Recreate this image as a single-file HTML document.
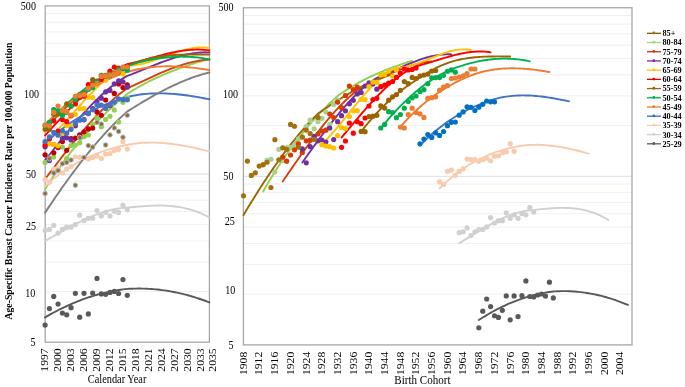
<!DOCTYPE html><html><head><meta charset="utf-8"><style>html,body{margin:0;padding:0;background:#fff;overflow:hidden;}svg{display:block;filter:blur(0.3px)}text{font-family:"Liberation Serif",serif;}</style></head><body>
<svg width="685" height="387" viewBox="0 0 685 387">
<rect width="685" height="387" fill="#fff"/>
<line x1="45.2" x2="209.4" y1="13.59" y2="13.59" stroke="#F0F0F0" stroke-width="1"/>
<line x1="45.2" x2="209.4" y1="22.2" y2="22.2" stroke="#F0F0F0" stroke-width="1"/>
<line x1="45.2" x2="209.4" y1="31.95" y2="31.95" stroke="#F0F0F0" stroke-width="1"/>
<line x1="45.2" x2="209.4" y1="43.2" y2="43.2" stroke="#F0F0F0" stroke-width="1"/>
<line x1="45.2" x2="209.4" y1="56.52" y2="56.52" stroke="#F0F0F0" stroke-width="1"/>
<line x1="45.2" x2="209.4" y1="72.81" y2="72.81" stroke="#F0F0F0" stroke-width="1"/>
<line x1="45.2" x2="209.4" y1="93.82" y2="93.82" stroke="#F0F0F0" stroke-width="1"/>
<line x1="45.2" x2="209.4" y1="123.43" y2="123.43" stroke="#F0F0F0" stroke-width="1"/>
<line x1="45.2" x2="209.4" y1="174.05" y2="174.05" stroke="#D9D9D9" stroke-width="1"/>
<line x1="45.2" x2="209.4" y1="181.74" y2="181.74" stroke="#F0F0F0" stroke-width="1"/>
<line x1="45.2" x2="209.4" y1="190.35" y2="190.35" stroke="#F0F0F0" stroke-width="1"/>
<line x1="45.2" x2="209.4" y1="200.1" y2="200.1" stroke="#F0F0F0" stroke-width="1"/>
<line x1="45.2" x2="209.4" y1="211.35" y2="211.35" stroke="#F0F0F0" stroke-width="1"/>
<line x1="45.2" x2="209.4" y1="224.67" y2="224.67" stroke="#F0F0F0" stroke-width="1"/>
<line x1="45.2" x2="209.4" y1="240.96" y2="240.96" stroke="#F0F0F0" stroke-width="1"/>
<line x1="45.2" x2="209.4" y1="261.97" y2="261.97" stroke="#F0F0F0" stroke-width="1"/>
<line x1="45.2" x2="209.4" y1="291.58" y2="291.58" stroke="#F0F0F0" stroke-width="1"/>
<line x1="243.4" x2="632" y1="15.46" y2="15.46" stroke="#F0F0F0" stroke-width="1"/>
<line x1="243.4" x2="632" y1="24.09" y2="24.09" stroke="#F0F0F0" stroke-width="1"/>
<line x1="243.4" x2="632" y1="33.86" y2="33.86" stroke="#F0F0F0" stroke-width="1"/>
<line x1="243.4" x2="632" y1="45.15" y2="45.15" stroke="#F0F0F0" stroke-width="1"/>
<line x1="243.4" x2="632" y1="58.5" y2="58.5" stroke="#F0F0F0" stroke-width="1"/>
<line x1="243.4" x2="632" y1="74.83" y2="74.83" stroke="#F0F0F0" stroke-width="1"/>
<line x1="243.4" x2="632" y1="95.9" y2="95.9" stroke="#F0F0F0" stroke-width="1"/>
<line x1="243.4" x2="632" y1="125.58" y2="125.58" stroke="#F0F0F0" stroke-width="1"/>
<line x1="243.4" x2="632" y1="176.33" y2="176.33" stroke="#D6E0F0" stroke-width="1"/>
<line x1="243.4" x2="632" y1="184.04" y2="184.04" stroke="#F0F0F0" stroke-width="1"/>
<line x1="243.4" x2="632" y1="192.67" y2="192.67" stroke="#F0F0F0" stroke-width="1"/>
<line x1="243.4" x2="632" y1="202.44" y2="202.44" stroke="#F0F0F0" stroke-width="1"/>
<line x1="243.4" x2="632" y1="213.73" y2="213.73" stroke="#F0F0F0" stroke-width="1"/>
<line x1="243.4" x2="632" y1="227.08" y2="227.08" stroke="#F0F0F0" stroke-width="1"/>
<line x1="243.4" x2="632" y1="243.41" y2="243.41" stroke="#F0F0F0" stroke-width="1"/>
<line x1="243.4" x2="632" y1="264.48" y2="264.48" stroke="#F0F0F0" stroke-width="1"/>
<line x1="243.4" x2="632" y1="294.16" y2="294.16" stroke="#F0F0F0" stroke-width="1"/>
<rect x="45.2" y="5.9" width="164.2" height="336.3" fill="none" stroke="#A6A6A6" stroke-width="1.3"/>
<rect x="243.4" y="7.75" width="388.6" height="337.15" fill="none" stroke="#A6A6A6" stroke-width="1.3"/>
<g>
<path d="M45.1,189.15 L47.26,185.75 L49.43,182.4 L51.59,179.11 L53.75,175.88 L55.91,172.71 L58.08,169.58 L60.24,166.51 L62.4,163.5 L64.56,160.54 L66.72,157.62 L68.89,154.76 L71.05,151.95 L73.21,149.19 L75.38,146.48 L77.54,143.81 L79.7,141.19 L81.86,138.62 L84.03,136.09 L86.19,133.61 L88.35,131.17 L90.51,128.77 L92.68,126.42 L94.84,124.11 L97,121.83 L99.16,119.6 L101.33,117.41 L103.49,115.26 L105.65,113.14 L107.81,111.06 L109.97,109.02 L112.14,107.01 L114.3,105.04 L116.46,103.1 L118.62,101.2 L120.79,99.33 L122.95,97.49 L125.11,95.68 L127.28,93.9 L129.44,92.51 L131.6,91.16 L133.76,89.84 L135.93,88.55 L138.09,87.29 L140.25,86.07 L142.41,84.88 L144.58,83.71 L146.74,82.57 L148.9,81.47 L151.06,80.39 L153.22,79.33 L155.39,78.3 L157.55,77.3 L159.71,76.32 L161.88,75.36 L164.04,74.43 L166.2,73.52 L168.36,72.62 L170.53,71.75 L172.69,70.9 L174.85,70.07 L177.01,69.26 L179.18,68.46 L181.34,67.68 L183.5,66.92 L185.66,66.17 L187.82,65.43 L189.99,64.71 L192.15,64 L194.31,63.3 L196.47,62.62 L198.64,61.94 L200.8,61.28 L202.96,60.62 L205.12,59.98 L207.29,59.34 L209.45,58.7" fill="none" stroke="#92D050" stroke-width="1.9" stroke-linecap="round" stroke-linejoin="round"/>
<path d="M45.1,179.14 L47.26,176.28 L49.43,173.41 L51.59,170.55 L53.75,167.71 L55.91,164.87 L58.08,162.04 L60.24,159.23 L62.4,156.43 L64.56,153.65 L66.72,150.89 L68.89,148.15 L71.05,145.44 L73.21,142.74 L75.38,140.08 L77.54,137.44 L79.7,134.83 L81.86,132.25 L84.03,129.7 L86.19,127.19 L88.35,124.71 L90.51,122.28 L92.68,119.88 L94.84,117.52 L97,115.21 L99.16,112.94 L101.33,110.72 L103.49,108.54 L105.65,106.42 L107.81,104.35 L109.97,102.33 L112.14,100.36 L114.3,98.46 L116.46,96.61 L118.62,94.82 L120.79,93.1 L122.95,91.43 L125.11,89.84 L127.28,88.31 L129.44,87.32 L131.6,86.33 L133.76,85.32 L135.93,84.32 L138.09,83.3 L140.25,82.29 L142.41,81.28 L144.58,80.27 L146.74,79.27 L148.9,78.27 L151.06,77.28 L153.22,76.29 L155.39,75.32 L157.55,74.36 L159.71,73.42 L161.88,72.49 L164.04,71.57 L166.2,70.68 L168.36,69.81 L170.53,68.96 L172.69,68.14 L174.85,67.34 L177.01,66.57 L179.18,65.83 L181.34,65.12 L183.5,64.45 L185.66,63.81 L187.82,63.2 L189.99,62.64 L192.15,62.11 L194.31,61.63 L196.47,61.19 L198.64,60.79 L200.8,60.44 L202.96,60.14 L205.12,59.89 L207.29,59.7 L209.45,59.55" fill="none" stroke="#D4400C" stroke-width="1.9" stroke-linecap="round" stroke-linejoin="round"/>
<path d="M45.1,160.22 L47.26,157.48 L49.43,154.74 L51.59,152 L53.75,149.27 L55.91,146.55 L58.08,143.83 L60.24,141.13 L62.4,138.45 L64.56,135.78 L66.72,133.13 L68.89,130.5 L71.05,127.9 L73.21,125.32 L75.38,122.77 L77.54,120.25 L79.7,117.76 L81.86,115.31 L84.03,112.9 L86.19,110.52 L88.35,108.19 L90.51,105.9 L92.68,103.66 L94.84,101.47 L97,99.32 L99.16,97.24 L101.33,95.2 L103.49,93.23 L105.65,91.31 L107.81,89.46 L109.97,87.67 L112.14,85.95 L114.3,84.29 L116.46,82.71 L118.62,81.2 L120.79,79.77 L122.95,78.42 L125.11,77.14 L127.28,75.95 L129.44,75.13 L131.6,74.3 L133.76,73.45 L135.93,72.59 L138.09,71.72 L140.25,70.85 L142.41,69.96 L144.58,69.08 L146.74,68.19 L148.9,67.31 L151.06,66.43 L153.22,65.55 L155.39,64.69 L157.55,63.83 L159.71,62.99 L161.88,62.16 L164.04,61.35 L166.2,60.56 L168.36,59.8 L170.53,59.05 L172.69,58.34 L174.85,57.65 L177.01,56.99 L179.18,56.37 L181.34,55.78 L183.5,55.23 L185.66,54.72 L187.82,54.26 L189.99,53.83 L192.15,53.46 L194.31,53.13 L196.47,52.86 L198.64,52.64 L200.8,52.47 L202.96,52.36 L205.12,52.32 L207.29,52.33 L209.45,52.42" fill="none" stroke="#7030A0" stroke-width="1.9" stroke-linecap="round" stroke-linejoin="round"/>
<path d="M45.1,142.07 L47.26,140.12 L49.43,138.1 L51.59,136.02 L53.75,133.88 L55.91,131.7 L58.08,129.46 L60.24,127.19 L62.4,124.87 L64.56,122.53 L66.72,120.17 L68.89,117.78 L71.05,115.38 L73.21,112.97 L75.38,110.56 L77.54,108.15 L79.7,105.75 L81.86,103.36 L84.03,100.98 L86.19,98.64 L88.35,96.32 L90.51,94.04 L92.68,91.79 L94.84,89.59 L97,87.44 L99.16,85.35 L101.33,83.32 L103.49,81.36 L105.65,79.47 L107.81,77.65 L109.97,75.92 L112.14,74.28 L114.3,72.73 L116.46,71.28 L118.62,69.94 L120.79,68.7 L122.95,67.58 L125.11,66.58 L127.28,65.71 L129.44,65.67 L131.6,65.54 L133.76,65.32 L135.93,65.03 L138.09,64.67 L140.25,64.24 L142.41,63.75 L144.58,63.21 L146.74,62.61 L148.9,61.98 L151.06,61.3 L153.22,60.59 L155.39,59.85 L157.55,59.09 L159.71,58.31 L161.88,57.52 L164.04,56.72 L166.2,55.92 L168.36,55.13 L170.53,54.34 L172.69,53.57 L174.85,52.82 L177.01,52.1 L179.18,51.41 L181.34,50.75 L183.5,50.14 L185.66,49.57 L187.82,49.06 L189.99,48.6 L192.15,48.21 L194.31,47.88 L196.47,47.63 L198.64,47.46 L200.8,47.38 L202.96,47.39 L205.12,47.49 L207.29,47.69 L209.45,48" fill="none" stroke="#FFC000" stroke-width="1.9" stroke-linecap="round" stroke-linejoin="round"/>
<path d="M45.1,135.39 L47.26,133.03 L49.43,130.68 L51.59,128.33 L53.75,125.98 L55.91,123.63 L58.08,121.29 L60.24,118.97 L62.4,116.65 L64.56,114.35 L66.72,112.06 L68.89,109.8 L71.05,107.55 L73.21,105.33 L75.38,103.14 L77.54,100.97 L79.7,98.83 L81.86,96.73 L84.03,94.66 L86.19,92.63 L88.35,90.64 L90.51,88.69 L92.68,86.79 L94.84,84.93 L97,83.13 L99.16,81.37 L101.33,79.67 L103.49,78.02 L105.65,76.43 L107.81,74.9 L109.97,73.44 L112.14,72.04 L114.3,70.71 L116.46,69.44 L118.62,68.25 L120.79,67.14 L122.95,66.1 L125.11,65.14 L127.28,64.26 L129.44,63.76 L131.6,63.24 L133.76,62.7 L135.93,62.14 L138.09,61.57 L140.25,60.99 L142.41,60.4 L144.58,59.8 L146.74,59.2 L148.9,58.59 L151.06,57.99 L153.22,57.39 L155.39,56.8 L157.55,56.21 L159.71,55.63 L161.88,55.07 L164.04,54.52 L166.2,53.98 L168.36,53.47 L170.53,52.97 L172.69,52.5 L174.85,52.06 L177.01,51.64 L179.18,51.26 L181.34,50.91 L183.5,50.59 L185.66,50.31 L187.82,50.07 L189.99,49.87 L192.15,49.72 L194.31,49.61 L196.47,49.55 L198.64,49.55 L200.8,49.6 L202.96,49.7 L205.12,49.86 L207.29,50.08 L209.45,50.37" fill="none" stroke="#FF0000" stroke-width="1.9" stroke-linecap="round" stroke-linejoin="round"/>
<path d="M45.1,129.61 L47.26,127.03 L49.43,124.52 L51.59,122.07 L53.75,119.69 L55.91,117.38 L58.08,115.13 L60.24,112.94 L62.4,110.8 L64.56,108.73 L66.72,106.71 L68.89,104.74 L71.05,102.83 L73.21,100.97 L75.38,99.15 L77.54,97.39 L79.7,95.67 L81.86,93.99 L84.03,92.36 L86.19,90.77 L88.35,89.21 L90.51,87.7 L92.68,86.22 L94.84,84.78 L97,83.37 L99.16,81.99 L101.33,80.64 L103.49,79.32 L105.65,78.03 L107.81,76.76 L109.97,75.51 L112.14,74.29 L114.3,73.08 L116.46,71.89 L118.62,70.73 L120.79,69.57 L122.95,68.43 L125.11,67.3 L127.28,66.18 L129.44,65.2 L131.6,64.28 L133.76,63.41 L135.93,62.59 L138.09,61.82 L140.25,61.1 L142.41,60.43 L144.58,59.8 L146.74,59.22 L148.9,58.69 L151.06,58.19 L153.22,57.74 L155.39,57.32 L157.55,56.94 L159.71,56.59 L161.88,56.28 L164.04,55.99 L166.2,55.74 L168.36,55.52 L170.53,55.32 L172.69,55.15 L174.85,55 L177.01,54.87 L179.18,54.77 L181.34,54.68 L183.5,54.61 L185.66,54.55 L187.82,54.51 L189.99,54.48 L192.15,54.46 L194.31,54.45 L196.47,54.45 L198.64,54.45 L200.8,54.45 L202.96,54.46 L205.12,54.47 L207.29,54.48 L209.45,54.49" fill="none" stroke="#9A6400" stroke-width="1.9" stroke-linecap="round" stroke-linejoin="round"/>
<path d="M45.1,126 L47.26,123.62 L49.43,121.28 L51.59,118.97 L53.75,116.71 L55.91,114.49 L58.08,112.31 L60.24,110.17 L62.4,108.08 L64.56,106.02 L66.72,104.01 L68.89,102.04 L71.05,100.12 L73.21,98.23 L75.38,96.39 L77.54,94.59 L79.7,92.84 L81.86,91.13 L84.03,89.47 L86.19,87.85 L88.35,86.27 L90.51,84.74 L92.68,83.26 L94.84,81.82 L97,80.43 L99.16,79.08 L101.33,77.78 L103.49,76.53 L105.65,75.33 L107.81,74.17 L109.97,73.06 L112.14,71.99 L114.3,70.98 L116.46,70.01 L118.62,69.1 L120.79,68.23 L122.95,67.41 L125.11,66.64 L127.28,65.92 L129.44,65.23 L131.6,64.56 L133.76,63.92 L135.93,63.3 L138.09,62.7 L140.25,62.14 L142.41,61.6 L144.58,61.08 L146.74,60.6 L148.9,60.14 L151.06,59.7 L153.22,59.3 L155.39,58.92 L157.55,58.57 L159.71,58.25 L161.88,57.96 L164.04,57.7 L166.2,57.47 L168.36,57.26 L170.53,57.09 L172.69,56.94 L174.85,56.83 L177.01,56.75 L179.18,56.69 L181.34,56.67 L183.5,56.68 L185.66,56.73 L187.82,56.8 L189.99,56.91 L192.15,57.04 L194.31,57.22 L196.47,57.42 L198.64,57.66 L200.8,57.93 L202.96,58.24 L205.12,58.58 L207.29,58.95 L209.45,59.36" fill="none" stroke="#00B050" stroke-width="1.9" stroke-linecap="round" stroke-linejoin="round"/>
<path d="M45.1,124.64 L47.26,122.43 L49.43,120.27 L51.59,118.17 L53.75,116.12 L55.91,114.12 L58.08,112.17 L60.24,110.27 L62.4,108.43 L64.56,106.63 L66.72,104.88 L68.89,103.17 L71.05,101.51 L73.21,99.9 L75.38,98.33 L77.54,96.81 L79.7,95.33 L81.86,93.89 L84.03,92.49 L86.19,91.14 L88.35,89.82 L90.51,88.54 L92.68,87.3 L94.84,86.1 L97,84.93 L99.16,83.8 L101.33,82.71 L103.49,81.65 L105.65,80.62 L107.81,79.62 L109.97,78.66 L112.14,77.73 L114.3,76.82 L116.46,75.95 L118.62,75.11 L120.79,74.29 L122.95,73.5 L125.11,72.73 L127.28,71.99 L129.44,71.37 L131.6,70.78 L133.76,70.24 L135.93,69.73 L138.09,69.26 L140.25,68.83 L142.41,68.44 L144.58,68.08 L146.74,67.76 L148.9,67.47 L151.06,67.22 L153.22,67 L155.39,66.81 L157.55,66.65 L159.71,66.52 L161.88,66.42 L164.04,66.35 L166.2,66.31 L168.36,66.29 L170.53,66.3 L172.69,66.34 L174.85,66.4 L177.01,66.48 L179.18,66.59 L181.34,66.72 L183.5,66.87 L185.66,67.04 L187.82,67.23 L189.99,67.44 L192.15,67.67 L194.31,67.91 L196.47,68.18 L198.64,68.45 L200.8,68.75 L202.96,69.05 L205.12,69.37 L207.29,69.7 L209.45,70.04" fill="none" stroke="#ED7D31" stroke-width="1.9" stroke-linecap="round" stroke-linejoin="round"/>
<path d="M45.1,143.32 L47.26,141.3 L49.43,139.34 L51.59,137.43 L53.75,135.58 L55.91,133.78 L58.08,132.03 L60.24,130.32 L62.4,128.67 L64.56,127.07 L66.72,125.51 L68.89,124 L71.05,122.53 L73.21,121.11 L75.38,119.73 L77.54,118.39 L79.7,117.09 L81.86,115.83 L84.03,114.62 L86.19,113.44 L88.35,112.29 L90.51,111.19 L92.68,110.12 L94.84,109.08 L97,108.08 L99.16,107.11 L101.33,106.17 L103.49,105.26 L105.65,104.38 L107.81,103.53 L109.97,102.71 L112.14,101.91 L114.3,101.14 L116.46,100.39 L118.62,99.67 L120.79,98.97 L122.95,98.29 L125.11,97.64 L127.28,97 L129.44,96.49 L131.6,96.02 L133.76,95.59 L135.93,95.2 L138.09,94.85 L140.25,94.54 L142.41,94.27 L144.58,94.03 L146.74,93.83 L148.9,93.67 L151.06,93.54 L153.22,93.44 L155.39,93.38 L157.55,93.34 L159.71,93.34 L161.88,93.36 L164.04,93.41 L166.2,93.49 L168.36,93.6 L170.53,93.73 L172.69,93.88 L174.85,94.06 L177.01,94.26 L179.18,94.48 L181.34,94.72 L183.5,94.98 L185.66,95.26 L187.82,95.56 L189.99,95.87 L192.15,96.2 L194.31,96.55 L196.47,96.9 L198.64,97.27 L200.8,97.65 L202.96,98.04 L205.12,98.45 L207.29,98.86 L209.45,99.27" fill="none" stroke="#4472C4" stroke-width="1.9" stroke-linecap="round" stroke-linejoin="round"/>
<path d="M45.1,186.2 L47.26,184.26 L49.43,182.38 L51.59,180.55 L53.75,178.78 L55.91,177.06 L58.08,175.4 L60.24,173.79 L62.4,172.23 L64.56,170.72 L66.72,169.26 L68.89,167.85 L71.05,166.48 L73.21,165.17 L75.38,163.9 L77.54,162.67 L79.7,161.49 L81.86,160.35 L84.03,159.25 L86.19,158.2 L88.35,157.19 L90.51,156.21 L92.68,155.28 L94.84,154.38 L97,153.52 L99.16,152.7 L101.33,151.91 L103.49,151.15 L105.65,150.43 L107.81,149.74 L109.97,149.08 L112.14,148.46 L114.3,147.86 L116.46,147.29 L118.62,146.75 L120.79,146.24 L122.95,145.75 L125.11,145.29 L127.28,144.86 L129.44,144.46 L131.6,144.1 L133.76,143.78 L135.93,143.5 L138.09,143.27 L140.25,143.07 L142.41,142.9 L144.58,142.78 L146.74,142.69 L148.9,142.63 L151.06,142.61 L153.22,142.62 L155.39,142.66 L157.55,142.73 L159.71,142.84 L161.88,142.97 L164.04,143.13 L166.2,143.32 L168.36,143.53 L170.53,143.77 L172.69,144.03 L174.85,144.32 L177.01,144.63 L179.18,144.96 L181.34,145.32 L183.5,145.69 L185.66,146.08 L187.82,146.5 L189.99,146.92 L192.15,147.37 L194.31,147.83 L196.47,148.3 L198.64,148.79 L200.8,149.3 L202.96,149.81 L205.12,150.34 L207.29,150.87 L209.45,151.42" fill="none" stroke="#F8CBAD" stroke-width="1.9" stroke-linecap="round" stroke-linejoin="round"/>
<path d="M45.1,240.82 L47.26,239.62 L49.43,238.42 L51.59,237.21 L53.75,235.99 L55.91,234.78 L58.08,233.57 L60.24,232.36 L62.4,231.16 L64.56,229.97 L66.72,228.79 L68.89,227.61 L71.05,226.46 L73.21,225.31 L75.38,224.19 L77.54,223.08 L79.7,222 L81.86,220.94 L84.03,219.9 L86.19,218.89 L88.35,217.92 L90.51,216.97 L92.68,216.06 L94.84,215.18 L97,214.34 L99.16,213.54 L101.33,212.78 L103.49,212.06 L105.65,211.39 L107.81,210.77 L109.97,210.2 L112.14,209.68 L114.3,209.21 L116.46,208.79 L118.62,208.44 L120.79,208.14 L122.95,207.91 L125.11,207.74 L127.28,207.63 L129.44,207.42 L131.6,207.21 L133.76,207 L135.93,206.81 L138.09,206.61 L140.25,206.43 L142.41,206.26 L144.58,206.1 L146.74,205.96 L148.9,205.84 L151.06,205.73 L153.22,205.65 L155.39,205.59 L157.55,205.56 L159.71,205.55 L161.88,205.57 L164.04,205.63 L166.2,205.71 L168.36,205.84 L170.53,206 L172.69,206.2 L174.85,206.44 L177.01,206.72 L179.18,207.05 L181.34,207.43 L183.5,207.86 L185.66,208.33 L187.82,208.87 L189.99,209.45 L192.15,210.1 L194.31,210.8 L196.47,211.56 L198.64,212.39 L200.8,213.28 L202.96,214.24 L205.12,215.27 L207.29,216.37 L209.45,217.55" fill="none" stroke="#D0D0D0" stroke-width="1.9" stroke-linecap="round" stroke-linejoin="round"/>
<path d="M45.1,317.4 L47.26,316.13 L49.43,314.9 L51.59,313.69 L53.75,312.51 L55.91,311.36 L58.08,310.24 L60.24,309.14 L62.4,308.08 L64.56,307.04 L66.72,306.03 L68.89,305.04 L71.05,304.09 L73.21,303.16 L75.38,302.26 L77.54,301.39 L79.7,300.54 L81.86,299.73 L84.03,298.94 L86.19,298.18 L88.35,297.44 L90.51,296.74 L92.68,296.06 L94.84,295.41 L97,294.78 L99.16,294.19 L101.33,293.62 L103.49,293.07 L105.65,292.56 L107.81,292.07 L109.97,291.61 L112.14,291.18 L114.3,290.77 L116.46,290.4 L118.62,290.05 L120.79,289.72 L122.95,289.42 L125.11,289.15 L127.28,288.91 L129.44,288.79 L131.6,288.69 L133.76,288.62 L135.93,288.58 L138.09,288.56 L140.25,288.56 L142.41,288.6 L144.58,288.66 L146.74,288.74 L148.9,288.85 L151.06,288.99 L153.22,289.16 L155.39,289.34 L157.55,289.56 L159.71,289.8 L161.88,290.07 L164.04,290.36 L166.2,290.68 L168.36,291.02 L170.53,291.39 L172.69,291.78 L174.85,292.2 L177.01,292.65 L179.18,293.12 L181.34,293.62 L183.5,294.14 L185.66,294.69 L187.82,295.26 L189.99,295.86 L192.15,296.48 L194.31,297.13 L196.47,297.8 L198.64,298.5 L200.8,299.23 L202.96,299.98 L205.12,300.75 L207.29,301.55 L209.45,302.37" fill="none" stroke="#595959" stroke-width="1.9" stroke-linecap="round" stroke-linejoin="round"/>
<path d="M45.1,212.62 L47.26,209.37 L49.43,206.13 L51.59,202.92 L53.75,199.74 L55.91,196.58 L58.08,193.45 L60.24,190.35 L62.4,187.27 L64.56,184.23 L66.72,181.21 L68.89,178.23 L71.05,175.27 L73.21,172.35 L75.38,169.46 L77.54,166.6 L79.7,163.78 L81.86,160.99 L84.03,158.23 L86.19,155.52 L88.35,152.83 L90.51,150.19 L92.68,147.58 L94.84,145.01 L97,142.48 L99.16,139.99 L101.33,137.54 L103.49,135.13 L105.65,132.76 L107.81,130.43 L109.97,128.15 L112.14,125.91 L114.3,123.72 L116.46,121.57 L118.62,119.46 L120.79,117.4 L122.95,115.39 L125.11,113.43 L127.28,111.51 L129.44,110.14 L131.6,108.79 L133.76,107.44 L135.93,106.1 L138.09,104.78 L140.25,103.47 L142.41,102.18 L144.58,100.89 L146.74,99.63 L148.9,98.38 L151.06,97.14 L153.22,95.93 L155.39,94.73 L157.55,93.55 L159.71,92.39 L161.88,91.25 L164.04,90.12 L166.2,89.02 L168.36,87.95 L170.53,86.89 L172.69,85.86 L174.85,84.85 L177.01,83.86 L179.18,82.9 L181.34,81.97 L183.5,81.06 L185.66,80.18 L187.82,79.33 L189.99,78.5 L192.15,77.71 L194.31,76.94 L196.47,76.21 L198.64,75.5 L200.8,74.83 L202.96,74.19 L205.12,73.58 L207.29,73.01 L209.45,72.47" fill="none" stroke="#7F7F7F" stroke-width="1.9" stroke-linecap="round" stroke-linejoin="round"/>
<circle cx="45.1" cy="162.6" r="2.6" fill="#92D050"/>
<circle cx="49.43" cy="158" r="2.6" fill="#92D050"/>
<circle cx="53.75" cy="157.1" r="2.6" fill="#92D050"/>
<circle cx="58.08" cy="169.8" r="2.6" fill="#92D050"/>
<circle cx="62.4" cy="147.1" r="2.6" fill="#92D050"/>
<circle cx="66.72" cy="158.3" r="2.6" fill="#92D050"/>
<circle cx="71.05" cy="145.5" r="2.6" fill="#92D050"/>
<circle cx="75.38" cy="145.1" r="2.6" fill="#92D050"/>
<circle cx="79.7" cy="142.8" r="2.6" fill="#92D050"/>
<circle cx="84.03" cy="136.6" r="2.6" fill="#92D050"/>
<circle cx="88.35" cy="135" r="2.6" fill="#92D050"/>
<circle cx="92.68" cy="124.2" r="2.6" fill="#92D050"/>
<circle cx="97" cy="118" r="2.6" fill="#92D050"/>
<circle cx="101.33" cy="126.7" r="2.6" fill="#92D050"/>
<circle cx="105.65" cy="119.5" r="2.6" fill="#92D050"/>
<circle cx="109.97" cy="116.3" r="2.6" fill="#92D050"/>
<circle cx="114.3" cy="109.9" r="2.6" fill="#92D050"/>
<circle cx="118.62" cy="122.1" r="2.6" fill="#92D050"/>
<circle cx="122.95" cy="102.3" r="2.6" fill="#92D050"/>
<circle cx="127.28" cy="98" r="2.6" fill="#92D050"/>
<circle cx="45.1" cy="154.87" r="2.6" fill="#C00000"/>
<circle cx="49.43" cy="158.96" r="2.6" fill="#C00000"/>
<circle cx="53.75" cy="152.77" r="2.6" fill="#C00000"/>
<circle cx="58.08" cy="147.59" r="2.6" fill="#C00000"/>
<circle cx="62.4" cy="141.6" r="2.6" fill="#C00000"/>
<circle cx="66.72" cy="150.28" r="2.6" fill="#C00000"/>
<circle cx="71.05" cy="138.61" r="2.6" fill="#C00000"/>
<circle cx="75.38" cy="138.01" r="2.6" fill="#C00000"/>
<circle cx="79.7" cy="134.82" r="2.6" fill="#C00000"/>
<circle cx="84.03" cy="131.83" r="2.6" fill="#C00000"/>
<circle cx="88.35" cy="128.94" r="2.6" fill="#C00000"/>
<circle cx="92.68" cy="128.04" r="2.6" fill="#C00000"/>
<circle cx="97" cy="111.88" r="2.6" fill="#C00000"/>
<circle cx="101.33" cy="115.37" r="2.6" fill="#C00000"/>
<circle cx="105.65" cy="100.01" r="2.6" fill="#C00000"/>
<circle cx="109.97" cy="105.6" r="2.6" fill="#C00000"/>
<circle cx="114.3" cy="93.43" r="2.6" fill="#C00000"/>
<circle cx="118.62" cy="83.95" r="2.6" fill="#C00000"/>
<circle cx="122.95" cy="87.54" r="2.6" fill="#C00000"/>
<circle cx="127.28" cy="84.95" r="2.6" fill="#C00000"/>
<circle cx="45.1" cy="146.69" r="2.6" fill="#7030A0"/>
<circle cx="49.43" cy="160.55" r="2.6" fill="#7030A0"/>
<circle cx="53.75" cy="144.5" r="2.6" fill="#7030A0"/>
<circle cx="58.08" cy="134.12" r="2.6" fill="#7030A0"/>
<circle cx="62.4" cy="138.61" r="2.6" fill="#7030A0"/>
<circle cx="66.72" cy="137.81" r="2.6" fill="#7030A0"/>
<circle cx="71.05" cy="139.91" r="2.6" fill="#7030A0"/>
<circle cx="75.38" cy="125.84" r="2.6" fill="#7030A0"/>
<circle cx="79.7" cy="137.41" r="2.6" fill="#7030A0"/>
<circle cx="84.03" cy="119.56" r="2.6" fill="#7030A0"/>
<circle cx="88.35" cy="113.57" r="2.6" fill="#7030A0"/>
<circle cx="92.68" cy="108.69" r="2.6" fill="#7030A0"/>
<circle cx="97" cy="101.71" r="2.6" fill="#7030A0"/>
<circle cx="101.33" cy="98.21" r="2.6" fill="#7030A0"/>
<circle cx="105.65" cy="91.93" r="2.6" fill="#7030A0"/>
<circle cx="109.97" cy="90.43" r="2.6" fill="#7030A0"/>
<circle cx="114.3" cy="83.95" r="2.6" fill="#7030A0"/>
<circle cx="118.62" cy="80.76" r="2.6" fill="#7030A0"/>
<circle cx="122.95" cy="81.96" r="2.6" fill="#7030A0"/>
<circle cx="127.28" cy="87.14" r="2.6" fill="#7030A0"/>
<circle cx="45.1" cy="142.5" r="2.6" fill="#FFC000"/>
<circle cx="49.43" cy="143.8" r="2.6" fill="#FFC000"/>
<circle cx="53.75" cy="144.5" r="2.6" fill="#FFC000"/>
<circle cx="58.08" cy="145.79" r="2.6" fill="#FFC000"/>
<circle cx="62.4" cy="133.52" r="2.6" fill="#FFC000"/>
<circle cx="66.72" cy="125.54" r="2.6" fill="#FFC000"/>
<circle cx="71.05" cy="126.44" r="2.6" fill="#FFC000"/>
<circle cx="75.38" cy="114.37" r="2.6" fill="#FFC000"/>
<circle cx="79.7" cy="108.69" r="2.6" fill="#FFC000"/>
<circle cx="84.03" cy="108.59" r="2.6" fill="#FFC000"/>
<circle cx="88.35" cy="97.22" r="2.6" fill="#FFC000"/>
<circle cx="92.68" cy="97.62" r="2.6" fill="#FFC000"/>
<circle cx="97" cy="84.65" r="2.6" fill="#FFC000"/>
<circle cx="101.33" cy="80.06" r="2.6" fill="#FFC000"/>
<circle cx="105.65" cy="80.36" r="2.6" fill="#FFC000"/>
<circle cx="109.97" cy="72.98" r="2.6" fill="#FFC000"/>
<circle cx="114.3" cy="72.28" r="2.6" fill="#FFC000"/>
<circle cx="118.62" cy="69.09" r="2.6" fill="#FFC000"/>
<circle cx="122.95" cy="73.98" r="2.6" fill="#FFC000"/>
<circle cx="127.28" cy="67.99" r="2.6" fill="#FFC000"/>
<circle cx="45.1" cy="145.09" r="2.6" fill="#FF0000"/>
<circle cx="49.43" cy="138.81" r="2.6" fill="#FF0000"/>
<circle cx="53.75" cy="120.86" r="2.6" fill="#FF0000"/>
<circle cx="58.08" cy="131.03" r="2.6" fill="#FF0000"/>
<circle cx="62.4" cy="119.56" r="2.6" fill="#FF0000"/>
<circle cx="66.72" cy="121.55" r="2.6" fill="#FF0000"/>
<circle cx="71.05" cy="115.87" r="2.6" fill="#FF0000"/>
<circle cx="75.38" cy="103.9" r="2.6" fill="#FF0000"/>
<circle cx="79.7" cy="97.52" r="2.6" fill="#FF0000"/>
<circle cx="84.03" cy="96.22" r="2.6" fill="#FF0000"/>
<circle cx="88.35" cy="84.65" r="2.6" fill="#FF0000"/>
<circle cx="92.68" cy="83.15" r="2.6" fill="#FF0000"/>
<circle cx="97" cy="81.16" r="2.6" fill="#FF0000"/>
<circle cx="101.33" cy="79.46" r="2.6" fill="#FF0000"/>
<circle cx="105.65" cy="75.37" r="2.6" fill="#FF0000"/>
<circle cx="109.97" cy="71.18" r="2.6" fill="#FF0000"/>
<circle cx="114.3" cy="66.99" r="2.6" fill="#FF0000"/>
<circle cx="118.62" cy="67.99" r="2.6" fill="#FF0000"/>
<circle cx="122.95" cy="67.49" r="2.6" fill="#FF0000"/>
<circle cx="127.28" cy="66" r="2.6" fill="#FF0000"/>
<circle cx="45.1" cy="129.23" r="2.6" fill="#9A6400"/>
<circle cx="49.43" cy="129.53" r="2.6" fill="#9A6400"/>
<circle cx="53.75" cy="114.37" r="2.6" fill="#9A6400"/>
<circle cx="58.08" cy="114.07" r="2.6" fill="#9A6400"/>
<circle cx="62.4" cy="113.18" r="2.6" fill="#9A6400"/>
<circle cx="66.72" cy="103.8" r="2.6" fill="#9A6400"/>
<circle cx="71.05" cy="105.99" r="2.6" fill="#9A6400"/>
<circle cx="75.38" cy="98.11" r="2.6" fill="#9A6400"/>
<circle cx="79.7" cy="94.72" r="2.6" fill="#9A6400"/>
<circle cx="84.03" cy="92.53" r="2.6" fill="#9A6400"/>
<circle cx="88.35" cy="88.24" r="2.6" fill="#9A6400"/>
<circle cx="92.68" cy="79.56" r="2.6" fill="#9A6400"/>
<circle cx="97" cy="81.66" r="2.6" fill="#9A6400"/>
<circle cx="101.33" cy="75.37" r="2.6" fill="#9A6400"/>
<circle cx="105.65" cy="76.47" r="2.6" fill="#9A6400"/>
<circle cx="109.97" cy="73.98" r="2.6" fill="#9A6400"/>
<circle cx="114.3" cy="72.98" r="2.6" fill="#9A6400"/>
<circle cx="118.62" cy="72.08" r="2.6" fill="#9A6400"/>
<circle cx="122.95" cy="68.99" r="2.6" fill="#9A6400"/>
<circle cx="127.28" cy="68.49" r="2.6" fill="#9A6400"/>
<circle cx="45.1" cy="125.84" r="2.6" fill="#00B050"/>
<circle cx="49.43" cy="122.25" r="2.6" fill="#00B050"/>
<circle cx="53.75" cy="109.58" r="2.6" fill="#00B050"/>
<circle cx="58.08" cy="110.48" r="2.6" fill="#00B050"/>
<circle cx="62.4" cy="115.57" r="2.6" fill="#00B050"/>
<circle cx="66.72" cy="112.38" r="2.6" fill="#00B050"/>
<circle cx="71.05" cy="106.09" r="2.6" fill="#00B050"/>
<circle cx="75.38" cy="99.41" r="2.6" fill="#00B050"/>
<circle cx="79.7" cy="95.72" r="2.6" fill="#00B050"/>
<circle cx="84.03" cy="93.92" r="2.6" fill="#00B050"/>
<circle cx="88.35" cy="89.44" r="2.6" fill="#00B050"/>
<circle cx="92.68" cy="87.64" r="2.6" fill="#00B050"/>
<circle cx="97" cy="81.66" r="2.6" fill="#00B050"/>
<circle cx="101.33" cy="75.77" r="2.6" fill="#00B050"/>
<circle cx="105.65" cy="75.57" r="2.6" fill="#00B050"/>
<circle cx="109.97" cy="75.57" r="2.6" fill="#00B050"/>
<circle cx="114.3" cy="73.28" r="2.6" fill="#00B050"/>
<circle cx="118.62" cy="69.29" r="2.6" fill="#00B050"/>
<circle cx="122.95" cy="67.89" r="2.6" fill="#00B050"/>
<circle cx="127.28" cy="70.19" r="2.6" fill="#00B050"/>
<circle cx="45.1" cy="124.95" r="2.6" fill="#ED7D31"/>
<circle cx="49.43" cy="125.84" r="2.6" fill="#ED7D31"/>
<circle cx="53.75" cy="112.38" r="2.6" fill="#ED7D31"/>
<circle cx="58.08" cy="106.09" r="2.6" fill="#ED7D31"/>
<circle cx="62.4" cy="110.38" r="2.6" fill="#ED7D31"/>
<circle cx="66.72" cy="111.68" r="2.6" fill="#ED7D31"/>
<circle cx="71.05" cy="115.27" r="2.6" fill="#ED7D31"/>
<circle cx="75.38" cy="96.32" r="2.6" fill="#ED7D31"/>
<circle cx="79.7" cy="95.62" r="2.6" fill="#ED7D31"/>
<circle cx="84.03" cy="94.72" r="2.6" fill="#ED7D31"/>
<circle cx="88.35" cy="88.14" r="2.6" fill="#ED7D31"/>
<circle cx="92.68" cy="85.05" r="2.6" fill="#ED7D31"/>
<circle cx="97" cy="83.65" r="2.6" fill="#ED7D31"/>
<circle cx="101.33" cy="76.47" r="2.6" fill="#ED7D31"/>
<circle cx="105.65" cy="75.97" r="2.6" fill="#ED7D31"/>
<circle cx="109.97" cy="75.07" r="2.6" fill="#ED7D31"/>
<circle cx="114.3" cy="73.78" r="2.6" fill="#ED7D31"/>
<circle cx="118.62" cy="71.48" r="2.6" fill="#ED7D31"/>
<circle cx="122.95" cy="66.99" r="2.6" fill="#ED7D31"/>
<circle cx="127.28" cy="66.99" r="2.6" fill="#ED7D31"/>
<circle cx="45.1" cy="141.6" r="2.6" fill="#4472C4"/>
<circle cx="49.43" cy="136.91" r="2.6" fill="#4472C4"/>
<circle cx="53.75" cy="132.43" r="2.6" fill="#4472C4"/>
<circle cx="58.08" cy="135.22" r="2.6" fill="#4472C4"/>
<circle cx="62.4" cy="130.73" r="2.6" fill="#4472C4"/>
<circle cx="66.72" cy="133.22" r="2.6" fill="#4472C4"/>
<circle cx="71.05" cy="129.33" r="2.6" fill="#4472C4"/>
<circle cx="75.38" cy="123.55" r="2.6" fill="#4472C4"/>
<circle cx="79.7" cy="120.16" r="2.6" fill="#4472C4"/>
<circle cx="84.03" cy="119.86" r="2.6" fill="#4472C4"/>
<circle cx="88.35" cy="113.08" r="2.6" fill="#4472C4"/>
<circle cx="92.68" cy="109.78" r="2.6" fill="#4472C4"/>
<circle cx="97" cy="104.7" r="2.6" fill="#4472C4"/>
<circle cx="101.33" cy="105.2" r="2.6" fill="#4472C4"/>
<circle cx="105.65" cy="108.39" r="2.6" fill="#4472C4"/>
<circle cx="109.97" cy="105.1" r="2.6" fill="#4472C4"/>
<circle cx="114.3" cy="102.2" r="2.6" fill="#4472C4"/>
<circle cx="118.62" cy="98.91" r="2.6" fill="#4472C4"/>
<circle cx="122.95" cy="99.71" r="2.6" fill="#4472C4"/>
<circle cx="127.28" cy="99.71" r="2.6" fill="#4472C4"/>
<circle cx="45.1" cy="179.5" r="2.6" fill="#F8CBAD"/>
<circle cx="49.43" cy="182.2" r="2.6" fill="#F8CBAD"/>
<circle cx="53.75" cy="169" r="2.6" fill="#F8CBAD"/>
<circle cx="58.08" cy="167.8" r="2.6" fill="#F8CBAD"/>
<circle cx="62.4" cy="173" r="2.6" fill="#F8CBAD"/>
<circle cx="66.72" cy="169.2" r="2.6" fill="#F8CBAD"/>
<circle cx="71.05" cy="166.6" r="2.6" fill="#F8CBAD"/>
<circle cx="75.38" cy="156.8" r="2.6" fill="#F8CBAD"/>
<circle cx="79.7" cy="157.3" r="2.6" fill="#F8CBAD"/>
<circle cx="84.03" cy="157.4" r="2.6" fill="#F8CBAD"/>
<circle cx="88.35" cy="159.1" r="2.6" fill="#F8CBAD"/>
<circle cx="92.68" cy="157.4" r="2.6" fill="#F8CBAD"/>
<circle cx="97" cy="156" r="2.6" fill="#F8CBAD"/>
<circle cx="101.33" cy="158.5" r="2.6" fill="#F8CBAD"/>
<circle cx="105.65" cy="154" r="2.6" fill="#F8CBAD"/>
<circle cx="109.97" cy="153.5" r="2.6" fill="#F8CBAD"/>
<circle cx="114.3" cy="150.5" r="2.6" fill="#F8CBAD"/>
<circle cx="118.62" cy="149.6" r="2.6" fill="#F8CBAD"/>
<circle cx="122.95" cy="141.6" r="2.6" fill="#F8CBAD"/>
<circle cx="127.28" cy="149.1" r="2.6" fill="#F8CBAD"/>
<circle cx="45.1" cy="230.3" r="2.6" fill="#D0D0D0"/>
<circle cx="49.43" cy="229.4" r="2.6" fill="#D0D0D0"/>
<circle cx="53.75" cy="225.4" r="2.6" fill="#D0D0D0"/>
<circle cx="58.08" cy="233.1" r="2.6" fill="#D0D0D0"/>
<circle cx="62.4" cy="229.4" r="2.6" fill="#D0D0D0"/>
<circle cx="66.72" cy="227.2" r="2.6" fill="#D0D0D0"/>
<circle cx="71.05" cy="227.2" r="2.6" fill="#D0D0D0"/>
<circle cx="75.38" cy="224.5" r="2.6" fill="#D0D0D0"/>
<circle cx="79.7" cy="215.2" r="2.6" fill="#D0D0D0"/>
<circle cx="84.03" cy="220.6" r="2.6" fill="#D0D0D0"/>
<circle cx="88.35" cy="218.3" r="2.6" fill="#D0D0D0"/>
<circle cx="92.68" cy="218.3" r="2.6" fill="#D0D0D0"/>
<circle cx="97" cy="210.5" r="2.6" fill="#D0D0D0"/>
<circle cx="101.33" cy="215.9" r="2.6" fill="#D0D0D0"/>
<circle cx="105.65" cy="212.4" r="2.6" fill="#D0D0D0"/>
<circle cx="109.97" cy="215.9" r="2.6" fill="#D0D0D0"/>
<circle cx="114.3" cy="211.3" r="2.6" fill="#D0D0D0"/>
<circle cx="118.62" cy="212.4" r="2.6" fill="#D0D0D0"/>
<circle cx="122.95" cy="205.1" r="2.6" fill="#D0D0D0"/>
<circle cx="127.28" cy="209.7" r="2.6" fill="#D0D0D0"/>
<circle cx="45.1" cy="325.1" r="2.6" fill="#595959"/>
<circle cx="49.43" cy="308.6" r="2.6" fill="#595959"/>
<circle cx="53.75" cy="296.4" r="2.6" fill="#595959"/>
<circle cx="58.08" cy="304" r="2.6" fill="#595959"/>
<circle cx="62.4" cy="313.1" r="2.6" fill="#595959"/>
<circle cx="66.72" cy="314.8" r="2.6" fill="#595959"/>
<circle cx="71.05" cy="307.7" r="2.6" fill="#595959"/>
<circle cx="75.38" cy="293.3" r="2.6" fill="#595959"/>
<circle cx="79.7" cy="317.2" r="2.6" fill="#595959"/>
<circle cx="84.03" cy="293.3" r="2.6" fill="#595959"/>
<circle cx="88.35" cy="313.9" r="2.6" fill="#595959"/>
<circle cx="92.68" cy="293.1" r="2.6" fill="#595959"/>
<circle cx="97" cy="278.4" r="2.6" fill="#595959"/>
<circle cx="101.33" cy="293.9" r="2.6" fill="#595959"/>
<circle cx="105.65" cy="294.3" r="2.6" fill="#595959"/>
<circle cx="109.97" cy="292.4" r="2.6" fill="#595959"/>
<circle cx="114.3" cy="291.4" r="2.6" fill="#595959"/>
<circle cx="118.62" cy="293.5" r="2.6" fill="#595959"/>
<circle cx="122.95" cy="279.6" r="2.6" fill="#595959"/>
<circle cx="127.28" cy="295.3" r="2.6" fill="#595959"/>
<circle cx="45.1" cy="193.5" r="2.25" fill="#A86A08" stroke="#92BCE6" stroke-width="1"/>
<circle cx="49.43" cy="158.8" r="2.25" fill="#A86A08" stroke="#92BCE6" stroke-width="1"/>
<circle cx="53.75" cy="173.1" r="2.25" fill="#A86A08" stroke="#92BCE6" stroke-width="1"/>
<circle cx="58.08" cy="170.6" r="2.25" fill="#A86A08" stroke="#92BCE6" stroke-width="1"/>
<circle cx="62.4" cy="163.8" r="2.25" fill="#A86A08" stroke="#92BCE6" stroke-width="1"/>
<circle cx="66.72" cy="162.4" r="2.25" fill="#A86A08" stroke="#92BCE6" stroke-width="1"/>
<circle cx="71.05" cy="160" r="2.25" fill="#A86A08" stroke="#92BCE6" stroke-width="1"/>
<circle cx="75.38" cy="185.2" r="2.25" fill="#A86A08" stroke="#92BCE6" stroke-width="1"/>
<circle cx="79.7" cy="137.5" r="2.25" fill="#A86A08" stroke="#92BCE6" stroke-width="1"/>
<circle cx="84.03" cy="157.5" r="2.25" fill="#A86A08" stroke="#92BCE6" stroke-width="1"/>
<circle cx="88.35" cy="145.6" r="2.25" fill="#A86A08" stroke="#92BCE6" stroke-width="1"/>
<circle cx="92.68" cy="147.1" r="2.25" fill="#A86A08" stroke="#92BCE6" stroke-width="1"/>
<circle cx="97" cy="122.3" r="2.25" fill="#A86A08" stroke="#92BCE6" stroke-width="1"/>
<circle cx="101.33" cy="124.1" r="2.25" fill="#A86A08" stroke="#92BCE6" stroke-width="1"/>
<circle cx="105.65" cy="145" r="2.25" fill="#A86A08" stroke="#92BCE6" stroke-width="1"/>
<circle cx="109.97" cy="134.9" r="2.25" fill="#A86A08" stroke="#92BCE6" stroke-width="1"/>
<circle cx="114.3" cy="127.9" r="2.25" fill="#A86A08" stroke="#92BCE6" stroke-width="1"/>
<circle cx="118.62" cy="131.4" r="2.25" fill="#A86A08" stroke="#92BCE6" stroke-width="1"/>
<circle cx="122.95" cy="137.2" r="2.25" fill="#A86A08" stroke="#92BCE6" stroke-width="1"/>
<circle cx="127.28" cy="115.3" r="2.25" fill="#A86A08" stroke="#92BCE6" stroke-width="1"/>
</g>
<g>
<path d="M263.11,191.47 L265.07,188.06 L267.03,184.7 L268.99,181.41 L270.95,178.17 L272.92,174.98 L274.88,171.85 L276.84,168.78 L278.8,165.75 L280.76,162.78 L282.72,159.86 L284.68,156.99 L286.64,154.18 L288.6,151.41 L290.56,148.69 L292.52,146.01 L294.49,143.39 L296.45,140.81 L298.41,138.27 L300.37,135.78 L302.33,133.34 L304.29,130.94 L306.25,128.58 L308.21,126.26 L310.17,123.98 L312.13,121.74 L314.1,119.55 L316.06,117.39 L318.02,115.27 L319.98,113.18 L321.94,111.13 L323.9,109.12 L325.86,107.15 L327.82,105.2 L329.78,103.29 L331.75,101.42 L333.71,99.57 L335.67,97.76 L337.63,95.97 L339.59,94.58 L341.55,93.23 L343.51,91.9 L345.47,90.61 L347.43,89.35 L349.39,88.13 L351.36,86.93 L353.32,85.76 L355.28,84.62 L357.24,83.51 L359.2,82.43 L361.16,81.37 L363.12,80.34 L365.08,79.33 L367.04,78.35 L369,77.39 L370.97,76.45 L372.93,75.54 L374.89,74.64 L376.85,73.77 L378.81,72.92 L380.77,72.08 L382.73,71.27 L384.69,70.47 L386.65,69.69 L388.61,68.92 L390.58,68.17 L392.54,67.43 L394.5,66.71 L396.46,66 L398.42,65.3 L400.38,64.61 L402.34,63.94 L404.3,63.27 L406.26,62.61 L408.22,61.96 L410.19,61.32 L412.15,60.69" fill="none" stroke="#92D050" stroke-width="1.9" stroke-linecap="round" stroke-linejoin="round"/>
<path d="M282.72,181.44 L284.68,178.56 L286.64,175.69 L288.6,172.82 L290.56,169.97 L292.52,167.12 L294.49,164.29 L296.45,161.47 L298.41,158.67 L300.37,155.88 L302.33,153.11 L304.29,150.37 L306.25,147.64 L308.21,144.94 L310.17,142.27 L312.13,139.62 L314.1,137.01 L316.06,134.42 L318.02,131.87 L319.98,129.35 L321.94,126.87 L323.9,124.42 L325.86,122.02 L327.82,119.66 L329.78,117.34 L331.75,115.06 L333.71,112.83 L335.67,110.66 L337.63,108.53 L339.59,106.45 L341.55,104.42 L343.51,102.46 L345.47,100.54 L347.43,98.69 L349.39,96.9 L351.36,95.17 L353.32,93.5 L355.28,91.9 L357.24,90.37 L359.2,89.38 L361.16,88.38 L363.12,87.38 L365.08,86.37 L367.04,85.35 L369,84.34 L370.97,83.32 L372.93,82.31 L374.89,81.31 L376.85,80.3 L378.81,79.31 L380.77,78.32 L382.73,77.35 L384.69,76.39 L386.65,75.44 L388.61,74.51 L390.58,73.59 L392.54,72.7 L394.5,71.82 L396.46,70.97 L398.42,70.15 L400.38,69.35 L402.34,68.58 L404.3,67.83 L406.26,67.12 L408.22,66.45 L410.19,65.8 L412.15,65.2 L414.11,64.63 L416.07,64.1 L418.03,63.62 L419.99,63.18 L421.95,62.78 L423.91,62.43 L425.87,62.13 L427.83,61.88 L429.8,61.68 L431.76,61.54" fill="none" stroke="#D4400C" stroke-width="1.9" stroke-linecap="round" stroke-linejoin="round"/>
<path d="M302.33,162.46 L304.29,159.71 L306.25,156.97 L308.21,154.22 L310.17,151.49 L312.13,148.76 L314.1,146.04 L316.06,143.33 L318.02,140.64 L319.98,137.96 L321.94,135.3 L323.9,132.67 L325.86,130.06 L327.82,127.47 L329.78,124.92 L331.75,122.39 L333.71,119.9 L335.67,117.44 L337.63,115.02 L339.59,112.64 L341.55,110.3 L343.51,108.01 L345.47,105.76 L347.43,103.56 L349.39,101.41 L351.36,99.32 L353.32,97.28 L355.28,95.3 L357.24,93.38 L359.2,91.52 L361.16,89.73 L363.12,88 L365.08,86.34 L367.04,84.76 L369,83.24 L370.97,81.81 L372.93,80.45 L374.89,79.17 L376.85,77.98 L378.81,77.16 L380.77,76.32 L382.73,75.47 L384.69,74.61 L386.65,73.74 L388.61,72.86 L390.58,71.98 L392.54,71.09 L394.5,70.2 L396.46,69.31 L398.42,68.43 L400.38,67.56 L402.34,66.69 L404.3,65.83 L406.26,64.99 L408.22,64.16 L410.19,63.35 L412.15,62.55 L414.11,61.79 L416.07,61.04 L418.03,60.32 L419.99,59.63 L421.95,58.97 L423.91,58.35 L425.87,57.76 L427.83,57.21 L429.8,56.7 L431.76,56.23 L433.72,55.81 L435.68,55.43 L437.64,55.1 L439.6,54.83 L441.56,54.6 L443.52,54.44 L445.48,54.33 L447.44,54.29 L449.4,54.3 L451.37,54.38" fill="none" stroke="#7030A0" stroke-width="1.9" stroke-linecap="round" stroke-linejoin="round"/>
<path d="M321.94,144.26 L323.9,142.31 L325.86,140.29 L327.82,138.2 L329.78,136.06 L331.75,133.87 L333.71,131.63 L335.67,129.35 L337.63,127.03 L339.59,124.68 L341.55,122.31 L343.51,119.92 L345.47,117.51 L347.43,115.09 L349.39,112.68 L351.36,110.26 L353.32,107.85 L355.28,105.46 L357.24,103.08 L359.2,100.72 L361.16,98.4 L363.12,96.11 L365.08,93.86 L367.04,91.66 L369,89.5 L370.97,87.41 L372.93,85.37 L374.89,83.4 L376.85,81.5 L378.81,79.69 L380.77,77.95 L382.73,76.3 L384.69,74.75 L386.65,73.3 L388.61,71.95 L390.58,70.71 L392.54,69.59 L394.5,68.59 L396.46,67.72 L398.42,67.67 L400.38,67.54 L402.34,67.32 L404.3,67.03 L406.26,66.67 L408.22,66.24 L410.19,65.75 L412.15,65.21 L414.11,64.61 L416.07,63.97 L418.03,63.29 L419.99,62.58 L421.95,61.84 L423.91,61.08 L425.87,60.29 L427.83,59.5 L429.8,58.7 L431.76,57.9 L433.72,57.1 L435.68,56.32 L437.64,55.55 L439.6,54.79 L441.56,54.07 L443.52,53.37 L445.48,52.72 L447.44,52.1 L449.4,51.53 L451.37,51.02 L453.33,50.56 L455.29,50.17 L457.25,49.84 L459.21,49.59 L461.17,49.42 L463.13,49.34 L465.09,49.34 L467.05,49.44 L469.01,49.65 L470.98,49.96" fill="none" stroke="#FFC000" stroke-width="1.9" stroke-linecap="round" stroke-linejoin="round"/>
<path d="M341.55,137.57 L343.51,135.21 L345.47,132.85 L347.43,130.49 L349.39,128.13 L351.36,125.78 L353.32,123.44 L355.28,121.1 L357.24,118.78 L359.2,116.48 L361.16,114.18 L363.12,111.91 L365.08,109.66 L367.04,107.44 L369,105.24 L370.97,103.06 L372.93,100.92 L374.89,98.81 L376.85,96.74 L378.81,94.7 L380.77,92.71 L382.73,90.76 L384.69,88.85 L386.65,86.99 L388.61,85.17 L390.58,83.41 L392.54,81.7 L394.5,80.05 L396.46,78.46 L398.42,76.93 L400.38,75.46 L402.34,74.06 L404.3,72.72 L406.26,71.46 L408.22,70.26 L410.19,69.15 L412.15,68.11 L414.11,67.14 L416.07,66.26 L418.03,65.76 L419.99,65.23 L421.95,64.69 L423.91,64.13 L425.87,63.56 L427.83,62.98 L429.8,62.38 L431.76,61.79 L433.72,61.18 L435.68,60.58 L437.64,59.98 L439.6,59.37 L441.56,58.78 L443.52,58.19 L445.48,57.61 L447.44,57.04 L449.4,56.49 L451.37,55.96 L453.33,55.44 L455.29,54.94 L457.25,54.47 L459.21,54.03 L461.17,53.61 L463.13,53.22 L465.09,52.87 L467.05,52.55 L469.01,52.27 L470.98,52.03 L472.94,51.83 L474.9,51.68 L476.86,51.57 L478.82,51.52 L480.78,51.51 L482.74,51.56 L484.7,51.66 L486.66,51.82 L488.62,52.05 L490.59,52.33" fill="none" stroke="#FF0000" stroke-width="1.9" stroke-linecap="round" stroke-linejoin="round"/>
<path d="M361.16,131.77 L363.12,129.19 L365.08,126.67 L367.04,124.22 L369,121.84 L370.97,119.52 L372.93,117.26 L374.89,115.06 L376.85,112.92 L378.81,110.84 L380.77,108.81 L382.73,106.84 L384.69,104.93 L386.65,103.06 L388.61,101.24 L390.58,99.47 L392.54,97.75 L394.5,96.07 L396.46,94.43 L398.42,92.83 L400.38,91.28 L402.34,89.76 L404.3,88.28 L406.26,86.83 L408.22,85.42 L410.19,84.03 L412.15,82.68 L414.11,81.36 L416.07,80.06 L418.03,78.79 L419.99,77.54 L421.95,76.31 L423.91,75.1 L425.87,73.91 L427.83,72.74 L429.8,71.58 L431.76,70.44 L433.72,69.31 L435.68,68.19 L437.64,67.2 L439.6,66.28 L441.56,65.4 L443.52,64.58 L445.48,63.81 L447.44,63.09 L449.4,62.42 L451.37,61.79 L453.33,61.21 L455.29,60.67 L457.25,60.18 L459.21,59.72 L461.17,59.3 L463.13,58.92 L465.09,58.57 L467.05,58.25 L469.01,57.97 L470.98,57.72 L472.94,57.49 L474.9,57.3 L476.86,57.12 L478.82,56.97 L480.78,56.85 L482.74,56.74 L484.7,56.65 L486.66,56.58 L488.62,56.52 L490.59,56.48 L492.55,56.45 L494.51,56.43 L496.47,56.42 L498.43,56.42 L500.39,56.42 L502.35,56.43 L504.31,56.44 L506.27,56.45 L508.24,56.46 L510.2,56.46" fill="none" stroke="#9A6400" stroke-width="1.9" stroke-linecap="round" stroke-linejoin="round"/>
<path d="M380.77,128.16 L382.73,125.77 L384.69,123.42 L386.65,121.11 L388.61,118.85 L390.58,116.62 L392.54,114.43 L394.5,112.29 L396.46,110.19 L398.42,108.13 L400.38,106.11 L402.34,104.14 L404.3,102.21 L406.26,100.32 L408.22,98.47 L410.19,96.67 L412.15,94.91 L414.11,93.2 L416.07,91.53 L418.03,89.91 L419.99,88.33 L421.95,86.8 L423.91,85.31 L425.87,83.87 L427.83,82.47 L429.8,81.12 L431.76,79.82 L433.72,78.56 L435.68,77.35 L437.64,76.19 L439.6,75.08 L441.56,74.01 L443.52,73 L445.48,72.03 L447.44,71.11 L449.4,70.24 L451.37,69.42 L453.33,68.65 L455.29,67.93 L457.25,67.23 L459.21,66.56 L461.17,65.91 L463.13,65.29 L465.09,64.7 L467.05,64.13 L469.01,63.59 L470.98,63.07 L472.94,62.59 L474.9,62.13 L476.86,61.69 L478.82,61.29 L480.78,60.91 L482.74,60.56 L484.7,60.24 L486.66,59.94 L488.62,59.68 L490.59,59.45 L492.55,59.24 L494.51,59.07 L496.47,58.92 L498.43,58.81 L500.39,58.73 L502.35,58.67 L504.31,58.65 L506.27,58.66 L508.24,58.71 L510.2,58.78 L512.16,58.89 L514.12,59.03 L516.08,59.2 L518.04,59.4 L520,59.64 L521.96,59.91 L523.92,60.22 L525.88,60.56 L527.85,60.94 L529.81,61.35" fill="none" stroke="#00B050" stroke-width="1.9" stroke-linecap="round" stroke-linejoin="round"/>
<path d="M400.38,126.8 L402.34,124.58 L404.3,122.42 L406.26,120.31 L408.22,118.25 L410.19,116.25 L412.15,114.29 L414.11,112.39 L416.07,110.54 L418.03,108.74 L419.99,106.98 L421.95,105.27 L423.91,103.61 L425.87,101.99 L427.83,100.42 L429.8,98.89 L431.76,97.41 L433.72,95.97 L435.68,94.56 L437.64,93.2 L439.6,91.88 L441.56,90.6 L443.52,89.36 L445.48,88.15 L447.44,86.99 L449.4,85.85 L451.37,84.75 L453.33,83.69 L455.29,82.66 L457.25,81.66 L459.21,80.7 L461.17,79.76 L463.13,78.86 L465.09,77.98 L467.05,77.13 L469.01,76.31 L470.98,75.52 L472.94,74.75 L474.9,74.01 L476.86,73.38 L478.82,72.8 L480.78,72.25 L482.74,71.75 L484.7,71.28 L486.66,70.85 L488.62,70.45 L490.59,70.09 L492.55,69.77 L494.51,69.48 L496.47,69.23 L498.43,69 L500.39,68.81 L502.35,68.66 L504.31,68.53 L506.27,68.43 L508.24,68.36 L510.2,68.31 L512.16,68.3 L514.12,68.31 L516.08,68.34 L518.04,68.4 L520,68.49 L521.96,68.6 L523.92,68.73 L525.88,68.88 L527.85,69.05 L529.81,69.24 L531.77,69.45 L533.73,69.68 L535.69,69.92 L537.65,70.19 L539.61,70.46 L541.57,70.76 L543.53,71.06 L545.49,71.38 L547.45,71.71 L549.42,72.06" fill="none" stroke="#ED7D31" stroke-width="1.9" stroke-linecap="round" stroke-linejoin="round"/>
<path d="M419.99,145.52 L421.95,143.5 L423.91,141.53 L425.87,139.62 L427.83,137.76 L429.8,135.95 L431.76,134.2 L433.72,132.49 L435.68,130.84 L437.64,129.23 L439.6,127.66 L441.56,126.15 L443.52,124.68 L445.48,123.25 L447.44,121.87 L449.4,120.52 L451.37,119.22 L453.33,117.96 L455.29,116.74 L457.25,115.56 L459.21,114.42 L461.17,113.31 L463.13,112.23 L465.09,111.19 L467.05,110.19 L469.01,109.22 L470.98,108.27 L472.94,107.36 L474.9,106.48 L476.86,105.63 L478.82,104.8 L480.78,104.01 L482.74,103.23 L484.7,102.48 L486.66,101.76 L488.62,101.06 L490.59,100.38 L492.55,99.72 L494.51,99.08 L496.47,98.57 L498.43,98.1 L500.39,97.67 L502.35,97.28 L504.31,96.93 L506.27,96.62 L508.24,96.35 L510.2,96.11 L512.16,95.91 L514.12,95.74 L516.08,95.61 L518.04,95.51 L520,95.45 L521.96,95.41 L523.92,95.41 L525.88,95.43 L527.85,95.49 L529.81,95.56 L531.77,95.67 L533.73,95.8 L535.69,95.96 L537.65,96.13 L539.61,96.33 L541.57,96.56 L543.53,96.8 L545.49,97.06 L547.45,97.34 L549.42,97.64 L551.38,97.95 L553.34,98.28 L555.3,98.63 L557.26,98.98 L559.22,99.36 L561.18,99.74 L563.14,100.13 L565.1,100.53 L567.07,100.94 L569.03,101.36" fill="none" stroke="#4472C4" stroke-width="1.9" stroke-linecap="round" stroke-linejoin="round"/>
<path d="M439.6,188.51 L441.56,186.57 L443.52,184.68 L445.48,182.85 L447.44,181.07 L449.4,179.35 L451.37,177.68 L453.33,176.07 L455.29,174.5 L457.25,172.99 L459.21,171.53 L461.17,170.11 L463.13,168.74 L465.09,167.42 L467.05,166.15 L469.01,164.92 L470.98,163.74 L472.94,162.59 L474.9,161.5 L476.86,160.44 L478.82,159.42 L480.78,158.45 L482.74,157.51 L484.7,156.61 L486.66,155.75 L488.62,154.92 L490.59,154.13 L492.55,153.37 L494.51,152.65 L496.47,151.96 L498.43,151.3 L500.39,150.67 L502.35,150.07 L504.31,149.5 L506.27,148.96 L508.24,148.45 L510.2,147.96 L512.16,147.5 L514.12,147.06 L516.08,146.66 L518.04,146.3 L520,145.98 L521.96,145.71 L523.92,145.47 L525.88,145.27 L527.85,145.1 L529.81,144.98 L531.77,144.89 L533.73,144.83 L535.69,144.81 L537.65,144.82 L539.61,144.86 L541.57,144.93 L543.53,145.04 L545.49,145.17 L547.45,145.33 L549.42,145.52 L551.38,145.73 L553.34,145.97 L555.3,146.24 L557.26,146.53 L559.22,146.84 L561.18,147.17 L563.14,147.52 L565.1,147.9 L567.07,148.29 L569.03,148.7 L570.99,149.13 L572.95,149.58 L574.91,150.04 L576.87,150.52 L578.83,151.01 L580.79,151.51 L582.75,152.03 L584.71,152.55 L586.67,153.09 L588.64,153.64" fill="none" stroke="#F8CBAD" stroke-width="1.9" stroke-linecap="round" stroke-linejoin="round"/>
<path d="M459.21,243.27 L461.17,242.07 L463.13,240.86 L465.09,239.65 L467.05,238.43 L469.01,237.22 L470.98,236 L472.94,234.79 L474.9,233.59 L476.86,232.39 L478.82,231.21 L480.78,230.03 L482.74,228.87 L484.7,227.72 L486.66,226.6 L488.62,225.49 L490.59,224.4 L492.55,223.34 L494.51,222.3 L496.47,221.29 L498.43,220.31 L500.39,219.36 L502.35,218.44 L504.31,217.56 L506.27,216.72 L508.24,215.92 L510.2,215.16 L512.16,214.44 L514.12,213.77 L516.08,213.14 L518.04,212.57 L520,212.05 L521.96,211.58 L523.92,211.16 L525.88,210.81 L527.85,210.51 L529.81,210.27 L531.77,210.1 L533.73,209.99 L535.69,209.78 L537.65,209.57 L539.61,209.37 L541.57,209.17 L543.53,208.98 L545.49,208.79 L547.45,208.62 L549.42,208.47 L551.38,208.32 L553.34,208.2 L555.3,208.09 L557.26,208.01 L559.22,207.95 L561.18,207.92 L563.14,207.91 L565.1,207.93 L567.07,207.99 L569.03,208.07 L570.99,208.2 L572.95,208.36 L574.91,208.56 L576.87,208.8 L578.83,209.09 L580.79,209.42 L582.75,209.79 L584.71,210.22 L586.67,210.7 L588.64,211.23 L590.6,211.82 L592.56,212.47 L594.52,213.17 L596.48,213.94 L598.44,214.77 L600.4,215.66 L602.36,216.63 L604.32,217.66 L606.29,218.76 L608.25,219.94" fill="none" stroke="#D0D0D0" stroke-width="1.9" stroke-linecap="round" stroke-linejoin="round"/>
<path d="M478.82,320.05 L480.78,318.78 L482.74,317.54 L484.7,316.33 L486.66,315.15 L488.62,313.99 L490.59,312.87 L492.55,311.77 L494.51,310.7 L496.47,309.66 L498.43,308.64 L500.39,307.66 L502.35,306.7 L504.31,305.77 L506.27,304.87 L508.24,303.99 L510.2,303.15 L512.16,302.33 L514.12,301.54 L516.08,300.77 L518.04,300.04 L520,299.33 L521.96,298.65 L523.92,298 L525.88,297.37 L527.85,296.77 L529.81,296.2 L531.77,295.66 L533.73,295.14 L535.69,294.65 L537.65,294.19 L539.61,293.76 L541.57,293.35 L543.53,292.97 L545.49,292.62 L547.45,292.3 L549.42,292 L551.38,291.73 L553.34,291.49 L555.3,291.36 L557.26,291.26 L559.22,291.19 L561.18,291.15 L563.14,291.13 L565.1,291.14 L567.07,291.17 L569.03,291.23 L570.99,291.32 L572.95,291.43 L574.91,291.57 L576.87,291.73 L578.83,291.92 L580.79,292.13 L582.75,292.38 L584.71,292.64 L586.67,292.94 L588.64,293.25 L590.6,293.6 L592.56,293.97 L594.52,294.36 L596.48,294.79 L598.44,295.23 L600.4,295.7 L602.36,296.2 L604.32,296.73 L606.29,297.27 L608.25,297.85 L610.21,298.45 L612.17,299.07 L614.13,299.72 L616.09,300.4 L618.05,301.1 L620.01,301.83 L621.97,302.58 L623.93,303.35 L625.89,304.16 L627.86,304.98" fill="none" stroke="#595959" stroke-width="1.9" stroke-linecap="round" stroke-linejoin="round"/>
<path d="M243.5,215 L245.46,211.74 L247.42,208.49 L249.38,205.28 L251.34,202.08 L253.31,198.92 L255.27,195.78 L257.23,192.67 L259.19,189.59 L261.15,186.53 L263.11,183.51 L265.07,180.52 L267.03,177.56 L268.99,174.62 L270.95,171.73 L272.92,168.86 L274.88,166.03 L276.84,163.24 L278.8,160.47 L280.76,157.75 L282.72,155.06 L284.68,152.41 L286.64,149.79 L288.6,147.22 L290.56,144.68 L292.52,142.18 L294.49,139.72 L296.45,137.31 L298.41,134.93 L300.37,132.6 L302.33,130.31 L304.29,128.07 L306.25,125.87 L308.21,123.71 L310.17,121.6 L312.13,119.54 L314.1,117.52 L316.06,115.55 L318.02,113.63 L319.98,112.26 L321.94,110.9 L323.9,109.55 L325.86,108.21 L327.82,106.88 L329.78,105.57 L331.75,104.27 L333.71,102.99 L335.67,101.72 L337.63,100.46 L339.59,99.23 L341.55,98.01 L343.51,96.81 L345.47,95.62 L347.43,94.46 L349.39,93.31 L351.36,92.19 L353.32,91.09 L355.28,90.01 L357.24,88.95 L359.2,87.91 L361.16,86.9 L363.12,85.91 L365.08,84.95 L367.04,84.01 L369,83.1 L370.97,82.22 L372.93,81.37 L374.89,80.54 L376.85,79.74 L378.81,78.98 L380.77,78.24 L382.73,77.53 L384.69,76.86 L386.65,76.22 L388.61,75.61 L390.58,75.03 L392.54,74.49" fill="none" stroke="#9C6500" stroke-width="1.9" stroke-linecap="round" stroke-linejoin="round"/>
<circle cx="263.11" cy="164.85" r="2.6" fill="#A9D18E"/>
<circle cx="267.03" cy="160.24" r="2.6" fill="#A9D18E"/>
<circle cx="270.95" cy="159.34" r="2.6" fill="#A9D18E"/>
<circle cx="274.88" cy="172.07" r="2.6" fill="#A9D18E"/>
<circle cx="278.8" cy="149.31" r="2.6" fill="#A9D18E"/>
<circle cx="282.72" cy="160.54" r="2.6" fill="#A9D18E"/>
<circle cx="286.64" cy="147.71" r="2.6" fill="#A9D18E"/>
<circle cx="290.56" cy="147.31" r="2.6" fill="#A9D18E"/>
<circle cx="294.49" cy="145" r="2.6" fill="#A9D18E"/>
<circle cx="298.41" cy="138.78" r="2.6" fill="#A9D18E"/>
<circle cx="302.33" cy="137.18" r="2.6" fill="#A9D18E"/>
<circle cx="306.25" cy="126.35" r="2.6" fill="#A9D18E"/>
<circle cx="310.17" cy="120.14" r="2.6" fill="#A9D18E"/>
<circle cx="314.1" cy="128.86" r="2.6" fill="#A9D18E"/>
<circle cx="318.02" cy="121.64" r="2.6" fill="#A9D18E"/>
<circle cx="321.94" cy="118.43" r="2.6" fill="#A9D18E"/>
<circle cx="325.86" cy="112.02" r="2.6" fill="#A9D18E"/>
<circle cx="329.78" cy="124.25" r="2.6" fill="#A9D18E"/>
<circle cx="333.71" cy="104.4" r="2.6" fill="#A9D18E"/>
<circle cx="337.63" cy="100.09" r="2.6" fill="#A9D18E"/>
<circle cx="282.72" cy="157.1" r="2.6" fill="#D93A00"/>
<circle cx="286.64" cy="161.2" r="2.6" fill="#D93A00"/>
<circle cx="290.56" cy="155" r="2.6" fill="#D93A00"/>
<circle cx="294.49" cy="149.8" r="2.6" fill="#D93A00"/>
<circle cx="298.41" cy="143.8" r="2.6" fill="#D93A00"/>
<circle cx="302.33" cy="152.5" r="2.6" fill="#D93A00"/>
<circle cx="306.25" cy="140.8" r="2.6" fill="#D93A00"/>
<circle cx="310.17" cy="140.2" r="2.6" fill="#D93A00"/>
<circle cx="314.1" cy="137" r="2.6" fill="#D93A00"/>
<circle cx="318.02" cy="134" r="2.6" fill="#D93A00"/>
<circle cx="321.94" cy="131.1" r="2.6" fill="#D93A00"/>
<circle cx="325.86" cy="130.2" r="2.6" fill="#D93A00"/>
<circle cx="329.78" cy="114" r="2.6" fill="#D93A00"/>
<circle cx="333.71" cy="117.5" r="2.6" fill="#D93A00"/>
<circle cx="337.63" cy="102.1" r="2.6" fill="#D93A00"/>
<circle cx="341.55" cy="107.7" r="2.6" fill="#D93A00"/>
<circle cx="345.47" cy="95.5" r="2.6" fill="#D93A00"/>
<circle cx="349.39" cy="86" r="2.6" fill="#D93A00"/>
<circle cx="353.32" cy="89.6" r="2.6" fill="#D93A00"/>
<circle cx="357.24" cy="87" r="2.6" fill="#D93A00"/>
<circle cx="302.33" cy="148.9" r="2.6" fill="#7030A0"/>
<circle cx="306.25" cy="162.8" r="2.6" fill="#7030A0"/>
<circle cx="310.17" cy="146.7" r="2.6" fill="#7030A0"/>
<circle cx="314.1" cy="136.3" r="2.6" fill="#7030A0"/>
<circle cx="318.02" cy="140.8" r="2.6" fill="#7030A0"/>
<circle cx="321.94" cy="140" r="2.6" fill="#7030A0"/>
<circle cx="325.86" cy="142.1" r="2.6" fill="#7030A0"/>
<circle cx="329.78" cy="128" r="2.6" fill="#7030A0"/>
<circle cx="333.71" cy="139.6" r="2.6" fill="#7030A0"/>
<circle cx="337.63" cy="121.7" r="2.6" fill="#7030A0"/>
<circle cx="341.55" cy="115.7" r="2.6" fill="#7030A0"/>
<circle cx="345.47" cy="110.8" r="2.6" fill="#7030A0"/>
<circle cx="349.39" cy="103.8" r="2.6" fill="#7030A0"/>
<circle cx="353.32" cy="100.3" r="2.6" fill="#7030A0"/>
<circle cx="357.24" cy="94" r="2.6" fill="#7030A0"/>
<circle cx="361.16" cy="92.5" r="2.6" fill="#7030A0"/>
<circle cx="365.08" cy="86" r="2.6" fill="#7030A0"/>
<circle cx="369" cy="82.8" r="2.6" fill="#7030A0"/>
<circle cx="372.93" cy="84" r="2.6" fill="#7030A0"/>
<circle cx="376.85" cy="89.2" r="2.6" fill="#7030A0"/>
<circle cx="321.94" cy="144.7" r="2.6" fill="#FFC000"/>
<circle cx="325.86" cy="146" r="2.6" fill="#FFC000"/>
<circle cx="329.78" cy="146.7" r="2.6" fill="#FFC000"/>
<circle cx="333.71" cy="148" r="2.6" fill="#FFC000"/>
<circle cx="337.63" cy="135.7" r="2.6" fill="#FFC000"/>
<circle cx="341.55" cy="127.7" r="2.6" fill="#FFC000"/>
<circle cx="345.47" cy="128.6" r="2.6" fill="#FFC000"/>
<circle cx="349.39" cy="116.5" r="2.6" fill="#FFC000"/>
<circle cx="353.32" cy="110.8" r="2.6" fill="#FFC000"/>
<circle cx="357.24" cy="110.7" r="2.6" fill="#FFC000"/>
<circle cx="361.16" cy="99.3" r="2.6" fill="#FFC000"/>
<circle cx="365.08" cy="99.7" r="2.6" fill="#FFC000"/>
<circle cx="369" cy="86.7" r="2.6" fill="#FFC000"/>
<circle cx="372.93" cy="82.1" r="2.6" fill="#FFC000"/>
<circle cx="376.85" cy="82.4" r="2.6" fill="#FFC000"/>
<circle cx="380.77" cy="75" r="2.6" fill="#FFC000"/>
<circle cx="384.69" cy="74.3" r="2.6" fill="#FFC000"/>
<circle cx="388.61" cy="71.1" r="2.6" fill="#FFC000"/>
<circle cx="392.54" cy="76" r="2.6" fill="#FFC000"/>
<circle cx="396.46" cy="70" r="2.6" fill="#FFC000"/>
<circle cx="341.55" cy="147.3" r="2.6" fill="#FF0000"/>
<circle cx="345.47" cy="141" r="2.6" fill="#FF0000"/>
<circle cx="349.39" cy="123" r="2.6" fill="#FF0000"/>
<circle cx="353.32" cy="133.2" r="2.6" fill="#FF0000"/>
<circle cx="357.24" cy="121.7" r="2.6" fill="#FF0000"/>
<circle cx="361.16" cy="123.7" r="2.6" fill="#FF0000"/>
<circle cx="365.08" cy="118" r="2.6" fill="#FF0000"/>
<circle cx="369" cy="106" r="2.6" fill="#FF0000"/>
<circle cx="372.93" cy="99.6" r="2.6" fill="#FF0000"/>
<circle cx="376.85" cy="98.3" r="2.6" fill="#FF0000"/>
<circle cx="380.77" cy="86.7" r="2.6" fill="#FF0000"/>
<circle cx="384.69" cy="85.2" r="2.6" fill="#FF0000"/>
<circle cx="388.61" cy="83.2" r="2.6" fill="#FF0000"/>
<circle cx="392.54" cy="81.5" r="2.6" fill="#FF0000"/>
<circle cx="396.46" cy="77.4" r="2.6" fill="#FF0000"/>
<circle cx="400.38" cy="73.2" r="2.6" fill="#FF0000"/>
<circle cx="404.3" cy="69" r="2.6" fill="#FF0000"/>
<circle cx="408.22" cy="70" r="2.6" fill="#FF0000"/>
<circle cx="412.15" cy="69.5" r="2.6" fill="#FF0000"/>
<circle cx="416.07" cy="68" r="2.6" fill="#FF0000"/>
<circle cx="361.16" cy="131.4" r="2.6" fill="#9A6400"/>
<circle cx="365.08" cy="131.7" r="2.6" fill="#9A6400"/>
<circle cx="369" cy="116.5" r="2.6" fill="#9A6400"/>
<circle cx="372.93" cy="116.2" r="2.6" fill="#9A6400"/>
<circle cx="376.85" cy="115.3" r="2.6" fill="#9A6400"/>
<circle cx="380.77" cy="105.9" r="2.6" fill="#9A6400"/>
<circle cx="384.69" cy="108.1" r="2.6" fill="#9A6400"/>
<circle cx="388.61" cy="100.2" r="2.6" fill="#9A6400"/>
<circle cx="392.54" cy="96.8" r="2.6" fill="#9A6400"/>
<circle cx="396.46" cy="94.6" r="2.6" fill="#9A6400"/>
<circle cx="400.38" cy="90.3" r="2.6" fill="#9A6400"/>
<circle cx="404.3" cy="81.6" r="2.6" fill="#9A6400"/>
<circle cx="408.22" cy="83.7" r="2.6" fill="#9A6400"/>
<circle cx="412.15" cy="77.4" r="2.6" fill="#9A6400"/>
<circle cx="416.07" cy="78.5" r="2.6" fill="#9A6400"/>
<circle cx="419.99" cy="76" r="2.6" fill="#9A6400"/>
<circle cx="423.91" cy="75" r="2.6" fill="#9A6400"/>
<circle cx="427.83" cy="74.1" r="2.6" fill="#9A6400"/>
<circle cx="431.76" cy="71" r="2.6" fill="#9A6400"/>
<circle cx="435.68" cy="70.5" r="2.6" fill="#9A6400"/>
<circle cx="380.77" cy="128" r="2.6" fill="#00B050"/>
<circle cx="384.69" cy="124.4" r="2.6" fill="#00B050"/>
<circle cx="388.61" cy="111.7" r="2.6" fill="#00B050"/>
<circle cx="392.54" cy="112.6" r="2.6" fill="#00B050"/>
<circle cx="396.46" cy="117.7" r="2.6" fill="#00B050"/>
<circle cx="400.38" cy="114.5" r="2.6" fill="#00B050"/>
<circle cx="404.3" cy="108.2" r="2.6" fill="#00B050"/>
<circle cx="408.22" cy="101.5" r="2.6" fill="#00B050"/>
<circle cx="412.15" cy="97.8" r="2.6" fill="#00B050"/>
<circle cx="416.07" cy="96" r="2.6" fill="#00B050"/>
<circle cx="419.99" cy="91.5" r="2.6" fill="#00B050"/>
<circle cx="423.91" cy="89.7" r="2.6" fill="#00B050"/>
<circle cx="427.83" cy="83.7" r="2.6" fill="#00B050"/>
<circle cx="431.76" cy="77.8" r="2.6" fill="#00B050"/>
<circle cx="435.68" cy="77.6" r="2.6" fill="#00B050"/>
<circle cx="439.6" cy="77.6" r="2.6" fill="#00B050"/>
<circle cx="443.52" cy="75.3" r="2.6" fill="#00B050"/>
<circle cx="447.44" cy="71.3" r="2.6" fill="#00B050"/>
<circle cx="451.37" cy="69.9" r="2.6" fill="#00B050"/>
<circle cx="455.29" cy="72.2" r="2.6" fill="#00B050"/>
<circle cx="400.38" cy="127.1" r="2.6" fill="#ED7D31"/>
<circle cx="404.3" cy="128" r="2.6" fill="#ED7D31"/>
<circle cx="408.22" cy="114.5" r="2.6" fill="#ED7D31"/>
<circle cx="412.15" cy="108.2" r="2.6" fill="#ED7D31"/>
<circle cx="416.07" cy="112.5" r="2.6" fill="#ED7D31"/>
<circle cx="419.99" cy="113.8" r="2.6" fill="#ED7D31"/>
<circle cx="423.91" cy="117.4" r="2.6" fill="#ED7D31"/>
<circle cx="427.83" cy="98.4" r="2.6" fill="#ED7D31"/>
<circle cx="431.76" cy="97.7" r="2.6" fill="#ED7D31"/>
<circle cx="435.68" cy="96.8" r="2.6" fill="#ED7D31"/>
<circle cx="439.6" cy="90.2" r="2.6" fill="#ED7D31"/>
<circle cx="443.52" cy="87.1" r="2.6" fill="#ED7D31"/>
<circle cx="447.44" cy="85.7" r="2.6" fill="#ED7D31"/>
<circle cx="451.37" cy="78.5" r="2.6" fill="#ED7D31"/>
<circle cx="455.29" cy="78" r="2.6" fill="#ED7D31"/>
<circle cx="459.21" cy="77.1" r="2.6" fill="#ED7D31"/>
<circle cx="463.13" cy="75.8" r="2.6" fill="#ED7D31"/>
<circle cx="467.05" cy="73.5" r="2.6" fill="#ED7D31"/>
<circle cx="470.98" cy="69" r="2.6" fill="#ED7D31"/>
<circle cx="474.9" cy="69" r="2.6" fill="#ED7D31"/>
<circle cx="419.99" cy="143.8" r="2.6" fill="#0070C0"/>
<circle cx="423.91" cy="139.1" r="2.6" fill="#0070C0"/>
<circle cx="427.83" cy="134.6" r="2.6" fill="#0070C0"/>
<circle cx="431.76" cy="137.4" r="2.6" fill="#0070C0"/>
<circle cx="435.68" cy="132.9" r="2.6" fill="#0070C0"/>
<circle cx="439.6" cy="135.4" r="2.6" fill="#0070C0"/>
<circle cx="443.52" cy="131.5" r="2.6" fill="#0070C0"/>
<circle cx="447.44" cy="125.7" r="2.6" fill="#0070C0"/>
<circle cx="451.37" cy="122.3" r="2.6" fill="#0070C0"/>
<circle cx="455.29" cy="122" r="2.6" fill="#0070C0"/>
<circle cx="459.21" cy="115.2" r="2.6" fill="#0070C0"/>
<circle cx="463.13" cy="111.9" r="2.6" fill="#0070C0"/>
<circle cx="467.05" cy="106.8" r="2.6" fill="#0070C0"/>
<circle cx="470.98" cy="107.3" r="2.6" fill="#0070C0"/>
<circle cx="474.9" cy="110.5" r="2.6" fill="#0070C0"/>
<circle cx="478.82" cy="107.2" r="2.6" fill="#0070C0"/>
<circle cx="482.74" cy="104.3" r="2.6" fill="#0070C0"/>
<circle cx="486.66" cy="101" r="2.6" fill="#0070C0"/>
<circle cx="490.59" cy="101.8" r="2.6" fill="#0070C0"/>
<circle cx="494.51" cy="101.8" r="2.6" fill="#0070C0"/>
<circle cx="439.6" cy="181.79" r="2.6" fill="#F8CBAD"/>
<circle cx="443.52" cy="184.5" r="2.6" fill="#F8CBAD"/>
<circle cx="447.44" cy="171.27" r="2.6" fill="#F8CBAD"/>
<circle cx="451.37" cy="170.06" r="2.6" fill="#F8CBAD"/>
<circle cx="455.29" cy="175.28" r="2.6" fill="#F8CBAD"/>
<circle cx="459.21" cy="171.47" r="2.6" fill="#F8CBAD"/>
<circle cx="463.13" cy="168.86" r="2.6" fill="#F8CBAD"/>
<circle cx="467.05" cy="159.04" r="2.6" fill="#F8CBAD"/>
<circle cx="470.98" cy="159.54" r="2.6" fill="#F8CBAD"/>
<circle cx="474.9" cy="159.64" r="2.6" fill="#F8CBAD"/>
<circle cx="478.82" cy="161.34" r="2.6" fill="#F8CBAD"/>
<circle cx="482.74" cy="159.64" r="2.6" fill="#F8CBAD"/>
<circle cx="486.66" cy="158.23" r="2.6" fill="#F8CBAD"/>
<circle cx="490.59" cy="160.74" r="2.6" fill="#F8CBAD"/>
<circle cx="494.51" cy="156.23" r="2.6" fill="#F8CBAD"/>
<circle cx="498.43" cy="155.73" r="2.6" fill="#F8CBAD"/>
<circle cx="502.35" cy="152.72" r="2.6" fill="#F8CBAD"/>
<circle cx="506.27" cy="151.82" r="2.6" fill="#F8CBAD"/>
<circle cx="510.2" cy="143.8" r="2.6" fill="#F8CBAD"/>
<circle cx="514.12" cy="151.32" r="2.6" fill="#F8CBAD"/>
<circle cx="459.21" cy="232.72" r="2.6" fill="#D0D0D0"/>
<circle cx="463.13" cy="231.82" r="2.6" fill="#D0D0D0"/>
<circle cx="467.05" cy="227.81" r="2.6" fill="#D0D0D0"/>
<circle cx="470.98" cy="235.53" r="2.6" fill="#D0D0D0"/>
<circle cx="474.9" cy="231.82" r="2.6" fill="#D0D0D0"/>
<circle cx="478.82" cy="229.62" r="2.6" fill="#D0D0D0"/>
<circle cx="482.74" cy="229.62" r="2.6" fill="#D0D0D0"/>
<circle cx="486.66" cy="226.91" r="2.6" fill="#D0D0D0"/>
<circle cx="490.59" cy="217.59" r="2.6" fill="#D0D0D0"/>
<circle cx="494.51" cy="223" r="2.6" fill="#D0D0D0"/>
<circle cx="498.43" cy="220.69" r="2.6" fill="#D0D0D0"/>
<circle cx="502.35" cy="220.69" r="2.6" fill="#D0D0D0"/>
<circle cx="506.27" cy="212.87" r="2.6" fill="#D0D0D0"/>
<circle cx="510.2" cy="218.29" r="2.6" fill="#D0D0D0"/>
<circle cx="514.12" cy="214.78" r="2.6" fill="#D0D0D0"/>
<circle cx="518.04" cy="218.29" r="2.6" fill="#D0D0D0"/>
<circle cx="521.96" cy="213.68" r="2.6" fill="#D0D0D0"/>
<circle cx="525.88" cy="214.78" r="2.6" fill="#D0D0D0"/>
<circle cx="529.81" cy="207.46" r="2.6" fill="#D0D0D0"/>
<circle cx="533.73" cy="212.07" r="2.6" fill="#D0D0D0"/>
<circle cx="478.82" cy="327.77" r="2.6" fill="#595959"/>
<circle cx="482.74" cy="311.22" r="2.6" fill="#595959"/>
<circle cx="486.66" cy="298.99" r="2.6" fill="#595959"/>
<circle cx="490.59" cy="306.61" r="2.6" fill="#595959"/>
<circle cx="494.51" cy="315.74" r="2.6" fill="#595959"/>
<circle cx="498.43" cy="317.44" r="2.6" fill="#595959"/>
<circle cx="502.35" cy="310.32" r="2.6" fill="#595959"/>
<circle cx="506.27" cy="295.88" r="2.6" fill="#595959"/>
<circle cx="510.2" cy="319.85" r="2.6" fill="#595959"/>
<circle cx="514.12" cy="295.88" r="2.6" fill="#595959"/>
<circle cx="518.04" cy="316.54" r="2.6" fill="#595959"/>
<circle cx="521.96" cy="295.68" r="2.6" fill="#595959"/>
<circle cx="525.88" cy="280.95" r="2.6" fill="#595959"/>
<circle cx="529.81" cy="296.49" r="2.6" fill="#595959"/>
<circle cx="533.73" cy="296.89" r="2.6" fill="#595959"/>
<circle cx="537.65" cy="294.98" r="2.6" fill="#595959"/>
<circle cx="541.57" cy="293.98" r="2.6" fill="#595959"/>
<circle cx="545.49" cy="296.09" r="2.6" fill="#595959"/>
<circle cx="549.42" cy="282.15" r="2.6" fill="#595959"/>
<circle cx="553.34" cy="297.89" r="2.6" fill="#595959"/>
<circle cx="243.5" cy="195.83" r="2.6" fill="#A56F0E"/>
<circle cx="247.42" cy="161.04" r="2.6" fill="#A56F0E"/>
<circle cx="251.34" cy="175.38" r="2.6" fill="#A56F0E"/>
<circle cx="255.27" cy="172.87" r="2.6" fill="#A56F0E"/>
<circle cx="259.19" cy="166.05" r="2.6" fill="#A56F0E"/>
<circle cx="263.11" cy="164.65" r="2.6" fill="#A56F0E"/>
<circle cx="267.03" cy="162.24" r="2.6" fill="#A56F0E"/>
<circle cx="270.95" cy="187.51" r="2.6" fill="#A56F0E"/>
<circle cx="274.88" cy="139.69" r="2.6" fill="#A56F0E"/>
<circle cx="278.8" cy="159.74" r="2.6" fill="#A56F0E"/>
<circle cx="282.72" cy="147.81" r="2.6" fill="#A56F0E"/>
<circle cx="286.64" cy="149.31" r="2.6" fill="#A56F0E"/>
<circle cx="290.56" cy="124.45" r="2.6" fill="#A56F0E"/>
<circle cx="294.49" cy="126.25" r="2.6" fill="#A56F0E"/>
<circle cx="298.41" cy="147.21" r="2.6" fill="#A56F0E"/>
<circle cx="302.33" cy="137.08" r="2.6" fill="#A56F0E"/>
<circle cx="306.25" cy="130.06" r="2.6" fill="#A56F0E"/>
<circle cx="310.17" cy="133.57" r="2.6" fill="#A56F0E"/>
<circle cx="314.1" cy="139.39" r="2.6" fill="#A56F0E"/>
<circle cx="318.02" cy="117.43" r="2.6" fill="#A56F0E"/>
</g>
<text transform="translate(35.9,9.6) scale(0.81,1)" font-size="12.4" text-anchor="end" fill="#000">500</text>
<text transform="translate(39,97.7) scale(0.81,1)" font-size="12.4" text-anchor="end" fill="#000">100</text>
<text transform="translate(36,177.9) scale(0.81,1)" font-size="12.4" text-anchor="end" fill="#000">50</text>
<text transform="translate(36,230.2) scale(0.81,1)" font-size="12.4" text-anchor="end" fill="#000">25</text>
<text transform="translate(35.2,297.1) scale(0.81,1)" font-size="12.4" text-anchor="end" fill="#000">10</text>
<text transform="translate(35.5,346.1) scale(0.81,1)" font-size="12.4" text-anchor="end" fill="#000">5</text>
<text transform="translate(233.5,11.1) scale(0.81,1)" font-size="12.4" text-anchor="end" fill="#000">500</text>
<text transform="translate(238,98.1) scale(0.81,1)" font-size="12.4" text-anchor="end" fill="#000">100</text>
<text transform="translate(233.4,180.2) scale(0.81,1)" font-size="12.4" text-anchor="end" fill="#000">50</text>
<text transform="translate(234.8,225.1) scale(0.81,1)" font-size="12.4" text-anchor="end" fill="#000">25</text>
<text transform="translate(235.2,294.4) scale(0.81,1)" font-size="12.4" text-anchor="end" fill="#000">10</text>
<text transform="translate(233.4,348.7) scale(0.81,1)" font-size="12.4" text-anchor="end" fill="#000">5</text>
<text transform="translate(48.4,348.4) rotate(-90) scale(1.11,1)" font-size="10.5" text-anchor="end" fill="#000">1997</text>
<text transform="translate(61.38,348.4) rotate(-90) scale(1.11,1)" font-size="10.5" text-anchor="end" fill="#000">2000</text>
<text transform="translate(74.35,348.4) rotate(-90) scale(1.11,1)" font-size="10.5" text-anchor="end" fill="#000">2003</text>
<text transform="translate(87.33,348.4) rotate(-90) scale(1.11,1)" font-size="10.5" text-anchor="end" fill="#000">2006</text>
<text transform="translate(100.3,348.4) rotate(-90) scale(1.11,1)" font-size="10.5" text-anchor="end" fill="#000">2009</text>
<text transform="translate(113.27,348.4) rotate(-90) scale(1.11,1)" font-size="10.5" text-anchor="end" fill="#000">2012</text>
<text transform="translate(126.25,348.4) rotate(-90) scale(1.11,1)" font-size="10.5" text-anchor="end" fill="#000">2015</text>
<text transform="translate(139.23,348.4) rotate(-90) scale(1.11,1)" font-size="10.5" text-anchor="end" fill="#000">2018</text>
<text transform="translate(152.2,348.4) rotate(-90) scale(1.11,1)" font-size="10.5" text-anchor="end" fill="#000">2021</text>
<text transform="translate(165.18,348.4) rotate(-90) scale(1.11,1)" font-size="10.5" text-anchor="end" fill="#000">2024</text>
<text transform="translate(178.15,348.4) rotate(-90) scale(1.11,1)" font-size="10.5" text-anchor="end" fill="#000">2027</text>
<text transform="translate(191.12,348.4) rotate(-90) scale(1.11,1)" font-size="10.5" text-anchor="end" fill="#000">2030</text>
<text transform="translate(204.1,348.4) rotate(-90) scale(1.11,1)" font-size="10.5" text-anchor="end" fill="#000">2033</text>
<text transform="translate(215.7,348.4) rotate(-90) scale(1.11,1)" font-size="10.5" text-anchor="end" fill="#000">2035</text>
<text transform="translate(246.8,351.8) rotate(-90) scale(1.11,1)" font-size="10.5" text-anchor="end" fill="#000">1908</text>
<text transform="translate(262.49,351.8) rotate(-90) scale(1.11,1)" font-size="10.5" text-anchor="end" fill="#000">1912</text>
<text transform="translate(278.18,351.8) rotate(-90) scale(1.11,1)" font-size="10.5" text-anchor="end" fill="#000">1916</text>
<text transform="translate(293.86,351.8) rotate(-90) scale(1.11,1)" font-size="10.5" text-anchor="end" fill="#000">1920</text>
<text transform="translate(309.55,351.8) rotate(-90) scale(1.11,1)" font-size="10.5" text-anchor="end" fill="#000">1924</text>
<text transform="translate(325.24,351.8) rotate(-90) scale(1.11,1)" font-size="10.5" text-anchor="end" fill="#000">1928</text>
<text transform="translate(340.93,351.8) rotate(-90) scale(1.11,1)" font-size="10.5" text-anchor="end" fill="#000">1932</text>
<text transform="translate(356.62,351.8) rotate(-90) scale(1.11,1)" font-size="10.5" text-anchor="end" fill="#000">1936</text>
<text transform="translate(372.3,351.8) rotate(-90) scale(1.11,1)" font-size="10.5" text-anchor="end" fill="#000">1940</text>
<text transform="translate(387.99,351.8) rotate(-90) scale(1.11,1)" font-size="10.5" text-anchor="end" fill="#000">1944</text>
<text transform="translate(403.68,351.8) rotate(-90) scale(1.11,1)" font-size="10.5" text-anchor="end" fill="#000">1948</text>
<text transform="translate(419.37,351.8) rotate(-90) scale(1.11,1)" font-size="10.5" text-anchor="end" fill="#000">1952</text>
<text transform="translate(435.06,351.8) rotate(-90) scale(1.11,1)" font-size="10.5" text-anchor="end" fill="#000">1956</text>
<text transform="translate(450.74,351.8) rotate(-90) scale(1.11,1)" font-size="10.5" text-anchor="end" fill="#000">1960</text>
<text transform="translate(466.43,351.8) rotate(-90) scale(1.11,1)" font-size="10.5" text-anchor="end" fill="#000">1964</text>
<text transform="translate(482.12,351.8) rotate(-90) scale(1.11,1)" font-size="10.5" text-anchor="end" fill="#000">1968</text>
<text transform="translate(497.81,351.8) rotate(-90) scale(1.11,1)" font-size="10.5" text-anchor="end" fill="#000">1972</text>
<text transform="translate(513.5,351.8) rotate(-90) scale(1.11,1)" font-size="10.5" text-anchor="end" fill="#000">1976</text>
<text transform="translate(529.18,351.8) rotate(-90) scale(1.11,1)" font-size="10.5" text-anchor="end" fill="#000">1980</text>
<text transform="translate(544.87,351.8) rotate(-90) scale(1.11,1)" font-size="10.5" text-anchor="end" fill="#000">1984</text>
<text transform="translate(560.56,351.8) rotate(-90) scale(1.11,1)" font-size="10.5" text-anchor="end" fill="#000">1988</text>
<text transform="translate(576.25,351.8) rotate(-90) scale(1.11,1)" font-size="10.5" text-anchor="end" fill="#000">1992</text>
<text transform="translate(591.94,351.8) rotate(-90) scale(1.11,1)" font-size="10.5" text-anchor="end" fill="#000">1996</text>
<text transform="translate(607.62,351.8) rotate(-90) scale(1.11,1)" font-size="10.5" text-anchor="end" fill="#000">2000</text>
<text transform="translate(623.31,351.8) rotate(-90) scale(1.11,1)" font-size="10.5" text-anchor="end" fill="#000">2004</text>
<text x="117.1" y="383.2" font-size="12.2" text-anchor="middle" textLength="58.5" lengthAdjust="spacingAndGlyphs">Calendar Year</text>
<text x="422.4" y="384.4" font-size="12.2" text-anchor="middle" textLength="56.2" lengthAdjust="spacingAndGlyphs">Birth Cohort</text>
<text transform="translate(12.4,181.1) rotate(-90)" font-size="9.8" font-weight="bold" text-anchor="middle" textLength="277" lengthAdjust="spacingAndGlyphs">Age-Specific Breast Cancer Incidence Rate per 100,000 Population</text>
<line x1="647" x2="661" y1="33.3" y2="33.3" stroke="#6E5C0E" stroke-width="1.3"/>
<circle cx="653.8" cy="33" r="1.4" fill="#A87424"/>
<text transform="translate(662.5,36.2) scale(0.96,1)" font-size="8.6" font-weight="bold" fill="#000">85+</text>
<line x1="647" x2="661" y1="42.51" y2="42.51" stroke="#A9D18E" stroke-width="1.3"/>
<circle cx="653.8" cy="42.21" r="1.4" fill="#A9D18E"/>
<text transform="translate(662.5,45.41) scale(0.96,1)" font-size="8.6" font-weight="bold" fill="#000">80-84</text>
<line x1="647" x2="661" y1="51.72" y2="51.72" stroke="#C8302A" stroke-width="1.3"/>
<circle cx="653.8" cy="51.42" r="1.4" fill="#D93A00"/>
<text transform="translate(662.5,54.62) scale(0.96,1)" font-size="8.6" font-weight="bold" fill="#000">75-79</text>
<line x1="647" x2="661" y1="60.93" y2="60.93" stroke="#7030A0" stroke-width="1.3"/>
<circle cx="653.8" cy="60.63" r="1.4" fill="#7030A0"/>
<text transform="translate(662.5,63.83) scale(0.96,1)" font-size="8.6" font-weight="bold" fill="#000">70-74</text>
<line x1="647" x2="661" y1="70.14" y2="70.14" stroke="#FFC000" stroke-width="1.3"/>
<circle cx="653.8" cy="69.84" r="1.4" fill="#FFC000"/>
<text transform="translate(662.5,73.04) scale(0.96,1)" font-size="8.6" font-weight="bold" fill="#000">65-69</text>
<line x1="647" x2="661" y1="79.35" y2="79.35" stroke="#E00000" stroke-width="1.3"/>
<circle cx="653.8" cy="79.05" r="1.4" fill="#E00000"/>
<text transform="translate(662.5,82.25) scale(0.96,1)" font-size="8.6" font-weight="bold" fill="#000">60-64</text>
<line x1="647" x2="661" y1="88.56" y2="88.56" stroke="#9A6400" stroke-width="1.3"/>
<circle cx="653.8" cy="88.26" r="1.4" fill="#9A6400"/>
<text transform="translate(662.5,91.46) scale(0.96,1)" font-size="8.6" font-weight="bold" fill="#000">55-59</text>
<line x1="647" x2="661" y1="97.77" y2="97.77" stroke="#00B050" stroke-width="1.3"/>
<circle cx="653.8" cy="97.47" r="1.4" fill="#00B050"/>
<text transform="translate(662.5,100.67) scale(0.96,1)" font-size="8.6" font-weight="bold" fill="#000">50-54</text>
<line x1="647" x2="661" y1="106.98" y2="106.98" stroke="#ED7D31" stroke-width="1.3"/>
<circle cx="653.8" cy="106.68" r="1.4" fill="#ED7D31"/>
<text transform="translate(662.5,109.88) scale(0.96,1)" font-size="8.6" font-weight="bold" fill="#000">45-49</text>
<line x1="647" x2="661" y1="116.19" y2="116.19" stroke="#2F6DC4" stroke-width="1.3"/>
<circle cx="653.8" cy="115.89" r="1.4" fill="#2F6DC4"/>
<text transform="translate(662.5,119.09) scale(0.96,1)" font-size="8.6" font-weight="bold" fill="#000">40-44</text>
<line x1="647" x2="661" y1="125.4" y2="125.4" stroke="#F8CBAD" stroke-width="1.3"/>
<circle cx="653.8" cy="125.1" r="1.4" fill="#F8CBAD"/>
<text transform="translate(662.5,128.3) scale(0.96,1)" font-size="8.6" font-weight="bold" fill="#000">35-39</text>
<line x1="647" x2="661" y1="134.61" y2="134.61" stroke="#D0D0D0" stroke-width="1.3"/>
<circle cx="653.8" cy="134.31" r="1.4" fill="#D0D0D0"/>
<text transform="translate(662.5,137.51) scale(0.96,1)" font-size="8.6" font-weight="bold" fill="#000">30-34</text>
<line x1="647" x2="661" y1="143.82" y2="143.82" stroke="#595959" stroke-width="1.3"/>
<circle cx="653.8" cy="143.52" r="1.4" fill="#595959"/>
<text transform="translate(662.5,146.72) scale(0.96,1)" font-size="8.6" font-weight="bold" fill="#000">25-29</text>
</svg></body></html>
